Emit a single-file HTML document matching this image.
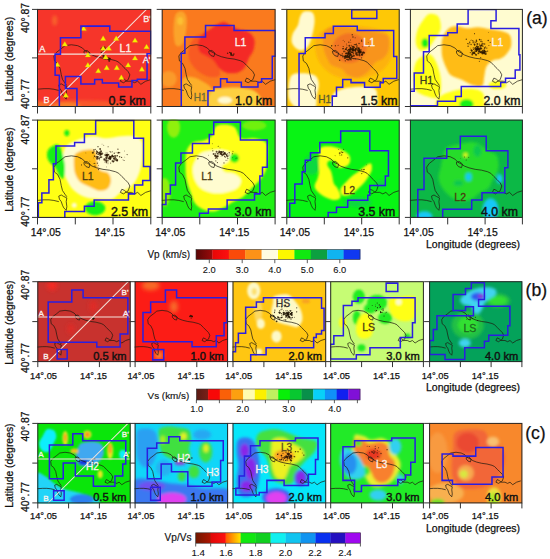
<!DOCTYPE html>
<html><head><meta charset="utf-8"><style>
html,body{margin:0;padding:0;background:#fff;}
body{width:550px;height:559px;overflow:hidden;}
svg text{font-family:"Liberation Sans", sans-serif;}
</style></head><body>
<svg width="550" height="559" viewBox="0 0 550 559" style="display:block;font-family:&quot;Liberation Sans&quot;, sans-serif">
<rect width="550" height="559" fill="#fff"/>
<svg x="37.00" y="8.90" width="114.30" height="98.10" viewBox="0 0 113.0 97.4" preserveAspectRatio="none" overflow="hidden">
<defs><filter id="fp1" x="-50%" y="-50%" width="200%" height="200%"><feGaussianBlur stdDeviation="1.6"/></filter></defs>
<rect width="113.0" height="97.4" fill="#f6352a"/>
<g transform="translate(-0.50 -0.40)">
<g filter="url(#fp1)">
<ellipse cx="45.0" cy="100.0" rx="50.0" ry="9.0" fill="#f8582a"/>
<ellipse cx="30.0" cy="98.0" rx="14.0" ry="5.0" fill="#f8802c"/>
<ellipse cx="5.0" cy="97.0" rx="8.0" ry="5.0" fill="#f8702a"/>
<ellipse cx="18.0" cy="12.0" rx="2.5" ry="5.0" fill="#f8602c"/>
<ellipse cx="48.0" cy="20.0" rx="2.0" ry="3.0" fill="#f8502c"/>
</g>
<polyline points="30.0,76.5 28.2,74.1 25.7,70.4 24.5,65.6 23.3,59.4 20.9,54.5 17.8,52.1 17.2,47.2 19.7,43.6 24.5,39.9 28.2,36.9 34.5,36.0 40.7,36.9 45.4,39.2 48.5,42.4 51.6,44.0 55.0,46.2 59.5,47.9 65.7,49.4 72.0,50.2 78.2,51.8 81.3,53.3 84.4,56.5 87.6,59.6 90.7,62.8 92.3,65.9 90.7,70.6 86.0,73.7 82.9,72.2 84.4,69.1 87.0,70.3 89.1,72.2 93.8,72.2 97.0,73.7 100.0,72.2 103.2,75.3 107.9,72.2 113.0,70.6" fill="none" stroke="#201a10" stroke-width="0.85" stroke-opacity="0.85"/>
<polyline points="0.0,80.2 7.5,79.6 12.4,79.6 17.2,80.2 22.1,81.4" fill="none" stroke="#201a10" stroke-width="0.85" stroke-opacity="0.85"/>
<polyline points="22.0,75.9 24.5,74.8 27.0,76.3 30.0,77.7 29.4,81.4 30.0,86.4 29.4,90.0 27.0,87.6 25.7,85.0 24.5,81.4 22.7,79.0 22.0,75.9" fill="none" stroke="#201a10" stroke-width="0.85" stroke-opacity="0.85"/>
<polyline points="47.0,42.2 50.0,41.7 53.0,44.2 52.0,47.7 49.0,46.7 47.0,44.2 47.0,42.2" fill="none" stroke="#201a10" stroke-width="0.85" stroke-opacity="0.85"/>
<g fill="#2a1600" fill-opacity="0.75"><circle cx="67.6" cy="39.9" r="0.86"/><circle cx="66.4" cy="45.6" r="0.85"/><circle cx="66.7" cy="41.2" r="0.89"/><circle cx="64.2" cy="40.6" r="0.90"/><circle cx="66.1" cy="46.6" r="0.96"/><circle cx="66.5" cy="47.8" r="1.16"/><circle cx="67.5" cy="38.6" r="0.80"/><circle cx="66.2" cy="38.3" r="1.00"/><circle cx="66.0" cy="43.2" r="0.86"/><circle cx="64.5" cy="39.9" r="1.15"/><circle cx="64.1" cy="43.6" r="0.77"/><circle cx="67.0" cy="40.4" r="0.64"/><circle cx="71.1" cy="49.5" r="1.08"/><circle cx="71.5" cy="50.2" r="0.90"/><circle cx="72.5" cy="49.8" r="0.81"/><circle cx="72.4" cy="49.9" r="0.94"/><circle cx="71.9" cy="52.0" r="1.06"/><circle cx="70.7" cy="50.3" r="0.80"/><circle cx="66.9" cy="50.1" r="0.69"/><circle cx="68.5" cy="49.9" r="0.93"/></g>
<line x1="0" y1="45.3" x2="113.0" y2="45.3" stroke="#f4e4dc" stroke-width="1"/>
<line x1="12.2" y1="97.4" x2="113.0" y2="-3.4" stroke="#f4e4dc" stroke-width="1"/>
<polygon points="25.3,37.3 30.7,37.3 28.0,32.7" fill="#f8f000" stroke="#d8c000" stroke-width="0.3"/><polygon points="63.2,31.7 68.6,31.7 65.9,27.1" fill="#f8f000" stroke="#d8c000" stroke-width="0.3"/><polygon points="76.1,31.7 81.5,31.7 78.8,27.1" fill="#f8f000" stroke="#d8c000" stroke-width="0.3"/><polygon points="94.7,33.6 100.1,33.6 97.4,29.0" fill="#f8f000" stroke="#d8c000" stroke-width="0.3"/><polygon points="106.1,40.0 111.5,40.0 108.8,35.4" fill="#f8f000" stroke="#d8c000" stroke-width="0.3"/><polygon points="63.2,41.5 68.6,41.5 65.9,36.9" fill="#f8f000" stroke="#d8c000" stroke-width="0.3"/><polygon points="68.8,41.5 74.2,41.5 71.5,36.9" fill="#f8f000" stroke="#d8c000" stroke-width="0.3"/><polygon points="48.1,48.1 53.5,48.1 50.8,43.5" fill="#f8f000" stroke="#d8c000" stroke-width="0.3"/><polygon points="65.7,50.2 71.1,50.2 68.4,45.6" fill="#f8f000" stroke="#d8c000" stroke-width="0.3"/><polygon points="94.7,51.2 100.1,51.2 97.4,46.6" fill="#f8f000" stroke="#d8c000" stroke-width="0.3"/><polygon points="48.1,58.1 53.5,58.1 50.8,53.5" fill="#f8f000" stroke="#d8c000" stroke-width="0.3"/><polygon points="58.4,63.9 63.8,63.9 61.1,59.3" fill="#f8f000" stroke="#d8c000" stroke-width="0.3"/><polygon points="66.7,60.8 72.1,60.8 69.4,56.2" fill="#f8f000" stroke="#d8c000" stroke-width="0.3"/><polygon points="76.7,60.8 82.1,60.8 79.4,56.2" fill="#f8f000" stroke="#d8c000" stroke-width="0.3"/><polygon points="87.9,58.1 93.3,58.1 90.6,53.5" fill="#f8f000" stroke="#d8c000" stroke-width="0.3"/><polygon points="101.5,62.2 106.9,62.2 104.2,57.6" fill="#f8f000" stroke="#d8c000" stroke-width="0.3"/><polygon points="81.2,70.5 86.6,70.5 83.9,65.9" fill="#f8f000" stroke="#d8c000" stroke-width="0.3"/><polygon points="18.0,57.6 23.4,57.6 20.7,53.0" fill="#f8f000" stroke="#d8c000" stroke-width="0.3"/><polygon points="26.3,88.1 31.7,88.1 29.0,83.5" fill="#f8f000" stroke="#d8c000" stroke-width="0.3"/><polygon points="43.9,21.8 49.3,21.8 46.6,17.2" fill="#f8f000" stroke="#d8c000" stroke-width="0.3"/>
<polygon points="43.9,17.5 72.5,17.5 72.5,22.5 113.0,22.5 113.0,45.0 109.3,45.0 109.3,70.2 99.7,70.2 99.7,71.6 94.4,71.6 94.4,78.0 81.2,78.0 81.2,74.0 65.1,74.0 65.1,70.6 57.5,70.6 57.5,75.0 43.9,75.0 43.9,67.4 28.6,67.4 28.6,79.4 40.0,79.4 40.0,97.5 22.6,97.5 22.6,66.3 18.4,66.3 18.4,45.3 23.7,45.3 23.7,29.0 43.9,29.0" fill="none" stroke="#2a1ee0" stroke-width="1.5"/>
</g>
<text x="87.5" y="42.7" fill="#fbf3ee" stroke="#fbf3ee" stroke-width="0.3" font-size="10.5" text-anchor="middle">L1</text>
<text x="5.2" y="43.0" fill="#fbf3ee" stroke="#fbf3ee" stroke-width="0.3" font-size="9.0" text-anchor="middle">A</text>
<text x="108.3" y="54.0" fill="#fbf3ee" stroke="#fbf3ee" stroke-width="0.3" font-size="9.0" text-anchor="middle">A'</text>
<text x="9.5" y="93.5" fill="#fbf3ee" stroke="#fbf3ee" stroke-width="0.3" font-size="9.0" text-anchor="middle">B</text>
<text x="108.8" y="13.5" fill="#fbf3ee" stroke="#fbf3ee" stroke-width="0.3" font-size="9.0" text-anchor="middle">B'</text>
<text x="107.6" y="95.2" fill="#111" stroke="#111" stroke-width="0.4" font-size="12.3" text-anchor="end">0.5 km</text>

</svg>
<rect x="37.50" y="9.40" width="113.30" height="97.10" fill="none" stroke="#262626" stroke-width="1"/>
<svg x="161.70" y="8.90" width="113.90" height="98.10" viewBox="0 0 113.0 97.4" preserveAspectRatio="none" overflow="hidden">
<defs><filter id="fp2" x="-50%" y="-50%" width="200%" height="200%"><feGaussianBlur stdDeviation="1.3"/></filter></defs>
<rect width="113.0" height="97.4" fill="#fa7a1e"/>
<g transform="translate(-0.20 -0.40)">
<g filter="url(#fp2)">
<path d="M27.0,40.0 C27.7,36.3 29.8,32.3 32.0,30.0 C34.2,27.7 37.0,24.3 40.0,26.0 C43.0,27.7 47.3,35.0 50.0,40.0 C52.7,45.0 54.7,51.7 56.0,56.0 C57.3,60.3 59.3,64.0 58.0,66.0 C56.7,68.0 51.7,68.7 48.0,68.0 C44.3,67.3 39.3,64.7 36.0,62.0 C32.7,59.3 29.5,55.7 28.0,52.0 C26.5,48.3 26.3,43.7 27.0,40.0Z" fill="#f85a20"/>
<path d="M37.3,31.1 C38.2,29.0 39.4,26.8 41.5,24.9 C43.6,23.0 47.3,21.3 49.7,19.7 C52.1,18.1 53.9,16.5 56.0,15.5 C58.1,14.5 60.1,13.3 62.2,13.5 C64.3,13.7 66.0,15.4 68.4,16.6 C70.8,17.8 73.6,19.5 76.7,20.7 C79.8,21.9 84.4,22.1 87.0,23.8 C89.6,25.5 91.5,28.2 92.2,31.1 C92.9,34.1 92.1,38.6 91.2,41.5 C90.3,44.4 88.4,46.0 87.0,48.7 C85.6,51.5 84.6,55.6 82.9,58.0 C81.2,60.4 79.5,62.2 76.7,63.2 C73.9,64.2 69.4,64.7 66.3,64.2 C63.2,63.7 60.4,62.2 58.0,60.1 C55.6,58.0 53.9,53.9 51.8,51.8 C49.7,49.7 47.9,49.1 45.6,47.7 C43.4,46.3 39.8,45.2 38.3,43.5 C36.8,41.8 36.5,39.4 36.3,37.3 C36.1,35.2 36.4,33.2 37.3,31.1Z" fill="#f42c26"/>
<path d="M14.0,6.0 C15.5,2.8 19.2,2.3 21.0,3.0 C22.8,3.7 24.5,6.3 25.0,10.0 C25.5,13.7 24.8,20.7 24.0,25.0 C23.2,29.3 21.7,34.2 20.0,36.0 C18.3,37.8 15.3,38.3 14.0,36.0 C12.7,33.7 12.0,27.0 12.0,22.0 C12.0,17.0 12.5,9.2 14.0,6.0Z" fill="#fba42a"/>
<ellipse cx="18.6" cy="12.4" rx="3.0" ry="4.0" fill="#fcc030"/>
<ellipse cx="7.0" cy="70.0" rx="8.0" ry="8.0" fill="#fa9a2a"/>
<path d="M21.0,70.0 C22.7,67.2 26.8,67.7 30.0,68.0 C33.2,68.3 36.7,70.0 40.0,72.0 C43.3,74.0 48.3,75.7 50.0,80.0 C51.7,84.3 54.7,95.0 50.0,98.0 C45.3,101.0 27.0,100.2 22.0,98.0 C17.0,95.8 20.2,89.7 20.0,85.0 C19.8,80.3 19.3,72.8 21.0,70.0Z" fill="#fcb02a"/>
<path d="M50.0,82.0 C52.0,78.8 57.0,79.5 62.0,79.0 C67.0,78.5 74.5,78.2 80.0,79.0 C85.5,79.8 92.2,80.8 95.0,84.0 C97.8,87.2 104.5,95.7 97.0,98.0 C89.5,100.3 57.8,100.7 50.0,98.0 C42.2,95.3 48.0,85.2 50.0,82.0Z" fill="#fdd040"/>
<ellipse cx="63.0" cy="91.0" rx="7.0" ry="3.5" fill="#fffad0"/>
</g>
<polyline points="30.0,76.5 28.2,74.1 25.7,70.4 24.5,65.6 23.3,59.4 20.9,54.5 17.8,52.1 17.2,47.2 19.7,43.6 24.5,39.9 28.2,36.9 34.5,36.0 40.7,36.9 45.4,39.2 48.5,42.4 51.6,44.0 55.0,46.2 59.5,47.9 65.7,49.4 72.0,50.2 78.2,51.8 81.3,53.3 84.4,56.5 87.6,59.6 90.7,62.8 92.3,65.9 90.7,70.6 86.0,73.7 82.9,72.2 84.4,69.1 87.0,70.3 89.1,72.2 93.8,72.2 97.0,73.7 100.0,72.2 103.2,75.3 107.9,72.2 113.0,70.6" fill="none" stroke="#201a10" stroke-width="0.85" stroke-opacity="0.85"/>
<polyline points="0.0,80.2 7.5,79.6 12.4,79.6 17.2,80.2 22.1,81.4" fill="none" stroke="#201a10" stroke-width="0.85" stroke-opacity="0.85"/>
<polyline points="22.0,75.9 24.5,74.8 27.0,76.3 30.0,77.7 29.4,81.4 30.0,86.4 29.4,90.0 27.0,87.6 25.7,85.0 24.5,81.4 22.7,79.0 22.0,75.9" fill="none" stroke="#201a10" stroke-width="0.85" stroke-opacity="0.85"/>
<polyline points="47.0,42.2 50.0,41.7 53.0,44.2 52.0,47.7 49.0,46.7 47.0,44.2 47.0,42.2" fill="none" stroke="#201a10" stroke-width="0.85" stroke-opacity="0.85"/>
<g fill="#2a1600" fill-opacity="0.75"><circle cx="70.9" cy="46.4" r="0.93"/><circle cx="68.9" cy="46.2" r="0.78"/><circle cx="67.5" cy="43.6" r="0.61"/><circle cx="71.8" cy="45.3" r="0.77"/><circle cx="69.0" cy="44.9" r="0.77"/><circle cx="68.8" cy="44.3" r="1.01"/><circle cx="69.3" cy="44.9" r="0.57"/><circle cx="65.6" cy="44.4" r="0.74"/><circle cx="69.3" cy="46.0" r="0.57"/><circle cx="69.3" cy="46.1" r="0.80"/></g>
<polygon points="43.7,17.0 72.0,17.0 72.0,21.8 113.0,21.8 113.0,47.3 109.9,47.3 109.9,69.7 99.3,69.7 99.3,73.3 95.7,73.3 95.7,78.0 79.2,78.0 79.2,73.3 65.0,73.3 65.0,69.7 58.6,69.7 58.6,78.0 52.0,78.0 52.0,81.6 46.1,81.6 46.1,97.5 19.6,97.5 19.6,44.4 23.2,44.4 23.2,28.4 43.7,28.4" fill="none" stroke="#2a1ee0" stroke-width="1.5"/>
</g>
<text x="78.3" y="37.0" fill="#fbf3ee" stroke="#fbf3ee" stroke-width="0.3" font-size="10.5" text-anchor="middle">L1</text>
<text x="38.2" y="91.0" fill="#6a6a38" stroke="#6a6a38" stroke-width="0.3" font-size="10.0" text-anchor="middle">H1</text>
<text x="109.7" y="95.2" fill="#111" stroke="#111" stroke-width="0.4" font-size="12.3" text-anchor="end">1.0 km</text>

</svg>
<rect x="162.20" y="9.40" width="112.90" height="97.10" fill="none" stroke="#262626" stroke-width="1"/>
<svg x="286.30" y="8.90" width="113.40" height="98.10" viewBox="0 0 113.0 97.4" preserveAspectRatio="none" overflow="hidden">
<defs><filter id="fp3" x="-50%" y="-50%" width="200%" height="200%"><feGaussianBlur stdDeviation="1.3"/></filter></defs>
<rect width="113.0" height="97.4" fill="#fec806"/>
<g transform="translate(-0.80 -0.40)">
<g filter="url(#fp3)">
<path d="M30.0,30.0 C31.7,25.0 37.0,22.2 42.0,20.0 C47.0,17.8 52.0,17.0 60.0,17.0 C68.0,17.0 82.7,18.3 90.0,20.0 C97.3,21.7 101.3,22.7 104.0,27.0 C106.7,31.3 107.0,40.5 106.0,46.0 C105.0,51.5 102.0,56.3 98.0,60.0 C94.0,63.7 88.0,66.3 82.0,68.0 C76.0,69.7 68.3,70.7 62.0,70.0 C55.7,69.3 49.0,67.3 44.0,64.0 C39.0,60.7 34.3,55.7 32.0,50.0 C29.7,44.3 28.3,35.0 30.0,30.0Z" fill="#fdb20c"/>
<path d="M38.3,22.8 C40.0,20.6 43.7,18.3 47.7,17.6 C51.7,16.9 58.1,18.2 62.2,18.7 C66.3,19.2 68.4,20.0 72.5,20.7 C76.6,21.4 82.2,21.8 87.0,22.8 C91.8,23.8 99.0,23.8 101.6,26.9 C104.2,30.0 103.3,37.7 102.6,41.5 C101.9,45.3 99.7,47.6 97.4,49.7 C95.2,51.8 91.5,51.8 89.1,53.9 C86.7,56.0 85.7,59.8 82.9,62.2 C80.1,64.6 76.0,67.7 72.5,68.4 C69.0,69.1 65.0,67.7 62.2,66.3 C59.5,64.9 58.8,61.8 56.0,60.1 C53.2,58.4 48.0,57.7 45.6,56.0 C43.2,54.3 42.7,52.1 41.5,49.7 C40.3,47.3 39.0,44.6 38.3,41.5 C37.6,38.4 37.3,34.2 37.3,31.1 C37.3,28.0 36.6,25.1 38.3,22.8Z" fill="#f8941c"/>
<path d="M49.7,31.1 C52.0,28.3 56.3,25.6 60.1,24.9 C63.9,24.2 69.0,25.2 72.5,26.9 C76.0,28.6 79.8,32.1 80.8,35.2 C81.8,38.3 80.5,42.7 78.8,45.6 C77.1,48.5 73.6,51.4 70.5,52.8 C67.4,54.2 63.2,54.4 60.1,53.9 C57.0,53.4 54.0,51.8 51.8,49.7 C49.5,47.6 47.0,44.6 46.6,41.5 C46.2,38.4 47.5,33.9 49.7,31.1Z" fill="#f27424"/>
<path d="M18.7,3.1 C20.8,2.4 25.3,2.5 27.0,4.1 C28.7,5.6 29.0,8.9 29.0,12.4 C29.0,15.9 28.0,20.8 27.0,24.9 C26.0,29.0 24.5,34.5 22.8,37.3 C21.1,40.1 18.7,41.1 16.6,41.5 C14.5,41.9 12.1,40.8 10.4,39.4 C8.7,38.0 6.7,35.6 6.2,33.2 C5.7,30.8 6.3,27.7 7.3,24.9 C8.3,22.1 11.2,19.4 12.4,16.6 C13.6,13.8 13.4,10.6 14.5,8.3 C15.6,6.1 16.6,3.8 18.7,3.1Z" fill="#fffad0"/>
<path d="M6.2,66.3 C8.5,63.9 12.8,64.2 16.6,64.2 C20.4,64.2 26.2,64.6 29.0,66.3 C31.8,68.0 32.9,71.1 33.2,74.6 C33.6,78.0 31.8,82.9 31.1,87.0 C30.4,91.1 32.1,97.0 29.0,99.0 C25.9,101.0 16.6,100.3 12.4,99.0 C8.2,97.7 5.6,94.6 4.1,91.2 C2.5,87.8 2.8,83.0 3.1,78.8 C3.5,74.6 3.9,68.7 6.2,66.3Z" fill="#fffad0"/>
<path d="M49.7,82.9 C52.3,81.2 57.4,79.7 62.2,78.8 C67.0,77.9 74.3,77.5 78.8,77.7 C83.3,77.9 87.0,78.2 89.1,79.8 C91.2,81.3 91.5,83.8 91.2,87.0 C90.9,90.2 94.2,97.0 87.0,99.0 C79.8,101.0 54.4,100.7 47.7,99.0 C41.0,97.3 46.3,91.8 46.6,89.1 C46.9,86.4 47.1,84.6 49.7,82.9Z" fill="#fffad0"/>
</g>
<polyline points="30.0,76.5 28.2,74.1 25.7,70.4 24.5,65.6 23.3,59.4 20.9,54.5 17.8,52.1 17.2,47.2 19.7,43.6 24.5,39.9 28.2,36.9 34.5,36.0 40.7,36.9 45.4,39.2 48.5,42.4 51.6,44.0 55.0,46.2 59.5,47.9 65.7,49.4 72.0,50.2 78.2,51.8 81.3,53.3 84.4,56.5 87.6,59.6 90.7,62.8 92.3,65.9 90.7,70.6 86.0,73.7 82.9,72.2 84.4,69.1 87.0,70.3 89.1,72.2 93.8,72.2 97.0,73.7 100.0,72.2 103.2,75.3 107.9,72.2 113.0,70.6" fill="none" stroke="#201a10" stroke-width="0.85" stroke-opacity="0.85"/>
<polyline points="0.0,80.2 7.5,79.6 12.4,79.6 17.2,80.2 22.1,81.4" fill="none" stroke="#201a10" stroke-width="0.85" stroke-opacity="0.85"/>
<polyline points="22.0,75.9 24.5,74.8 27.0,76.3 30.0,77.7 29.4,81.4 30.0,86.4 29.4,90.0 27.0,87.6 25.7,85.0 24.5,81.4 22.7,79.0 22.0,75.9" fill="none" stroke="#201a10" stroke-width="0.85" stroke-opacity="0.85"/>
<polyline points="47.0,42.2 50.0,41.7 53.0,44.2 52.0,47.7 49.0,46.7 47.0,44.2 47.0,42.2" fill="none" stroke="#201a10" stroke-width="0.85" stroke-opacity="0.85"/>
<g fill="#2a1600" fill-opacity="0.75"><circle cx="82.4" cy="34.0" r="0.44"/><circle cx="77.5" cy="43.8" r="0.68"/><circle cx="63.1" cy="33.5" r="0.64"/><circle cx="58.8" cy="33.1" r="0.48"/><circle cx="59.7" cy="40.5" r="0.68"/><circle cx="83.1" cy="37.5" r="0.62"/><circle cx="60.8" cy="39.6" r="0.43"/><circle cx="73.7" cy="39.2" r="0.53"/><circle cx="55.2" cy="46.7" r="0.61"/><circle cx="61.2" cy="36.4" r="0.43"/><circle cx="64.3" cy="40.9" r="0.60"/><circle cx="76.5" cy="37.9" r="0.49"/><circle cx="75.8" cy="31.4" r="0.68"/><circle cx="75.9" cy="32.4" r="0.70"/><circle cx="54.0" cy="51.4" r="0.77"/><circle cx="72.2" cy="46.5" r="0.68"/><circle cx="57.6" cy="39.8" r="0.60"/><circle cx="73.3" cy="34.8" r="0.72"/><circle cx="57.2" cy="47.9" r="0.74"/><circle cx="57.2" cy="39.9" r="0.75"/><circle cx="64.7" cy="31.2" r="0.50"/><circle cx="61.1" cy="46.3" r="0.48"/><circle cx="70.6" cy="35.4" r="0.75"/><circle cx="59.6" cy="52.0" r="0.67"/><circle cx="57.5" cy="37.8" r="0.65"/><circle cx="60.8" cy="35.3" r="0.49"/><circle cx="49.7" cy="37.0" r="0.64"/><circle cx="77.5" cy="43.1" r="0.68"/><circle cx="69.8" cy="35.9" r="0.69"/><circle cx="75.5" cy="41.1" r="0.52"/><circle cx="68.1" cy="50.1" r="0.46"/><circle cx="52.4" cy="36.4" r="0.51"/><circle cx="69.5" cy="50.0" r="0.57"/><circle cx="65.6" cy="36.5" r="0.55"/><circle cx="70.9" cy="45.9" r="0.45"/><circle cx="67.5" cy="37.6" r="0.68"/><circle cx="71.3" cy="38.6" r="0.71"/><circle cx="68.5" cy="41.2" r="0.67"/><circle cx="64.4" cy="39.2" r="0.78"/><circle cx="67.1" cy="39.3" r="0.54"/><circle cx="57.4" cy="31.5" r="0.46"/><circle cx="65.1" cy="39.3" r="0.58"/><circle cx="67.2" cy="28.2" r="0.74"/><circle cx="66.5" cy="26.1" r="0.67"/><circle cx="61.1" cy="38.7" r="0.66"/><circle cx="64.7" cy="40.5" r="0.58"/><circle cx="68.6" cy="35.8" r="0.63"/><circle cx="59.4" cy="42.5" r="0.47"/><circle cx="71.2" cy="36.8" r="0.64"/><circle cx="64.8" cy="38.6" r="0.62"/><circle cx="67.5" cy="39.6" r="0.43"/><circle cx="67.7" cy="40.3" r="0.65"/><circle cx="46.0" cy="37.1" r="0.76"/><circle cx="71.1" cy="37.8" r="0.58"/><circle cx="66.0" cy="46.0" r="0.64"/><circle cx="69.4" cy="29.0" r="0.51"/><circle cx="58.4" cy="41.4" r="0.42"/><circle cx="73.0" cy="39.4" r="0.46"/><circle cx="65.1" cy="33.6" r="0.46"/><circle cx="68.1" cy="42.0" r="0.50"/><circle cx="63.2" cy="40.7" r="0.80"/><circle cx="64.9" cy="39.9" r="1.12"/><circle cx="69.9" cy="40.3" r="0.86"/><circle cx="62.7" cy="40.8" r="0.66"/><circle cx="63.3" cy="42.2" r="0.73"/><circle cx="69.7" cy="43.0" r="0.83"/><circle cx="60.4" cy="40.5" r="0.96"/><circle cx="64.2" cy="46.6" r="0.83"/><circle cx="69.8" cy="41.4" r="0.68"/><circle cx="64.4" cy="44.6" r="0.99"/><circle cx="68.7" cy="41.2" r="0.85"/><circle cx="64.3" cy="41.1" r="0.95"/><circle cx="67.8" cy="41.7" r="0.83"/><circle cx="66.9" cy="40.7" r="1.04"/><circle cx="67.2" cy="43.4" r="0.84"/><circle cx="61.9" cy="41.8" r="0.84"/><circle cx="66.9" cy="41.7" r="0.67"/><circle cx="68.1" cy="38.7" r="1.15"/><circle cx="65.8" cy="40.6" r="0.99"/><circle cx="66.7" cy="37.8" r="0.90"/><circle cx="64.3" cy="42.7" r="1.06"/><circle cx="65.6" cy="43.4" r="0.89"/><circle cx="70.3" cy="40.0" r="1.13"/><circle cx="67.1" cy="39.6" r="0.76"/><circle cx="64.1" cy="41.1" r="0.86"/><circle cx="63.6" cy="37.0" r="0.95"/><circle cx="66.5" cy="40.2" r="0.82"/><circle cx="67.4" cy="41.0" r="0.86"/><circle cx="67.0" cy="41.3" r="1.11"/><circle cx="69.6" cy="40.8" r="0.70"/><circle cx="73.5" cy="45.4" r="0.99"/><circle cx="72.9" cy="42.0" r="0.91"/><circle cx="76.4" cy="45.6" r="1.14"/><circle cx="74.0" cy="43.1" r="0.91"/><circle cx="73.6" cy="42.5" r="1.11"/><circle cx="70.2" cy="44.8" r="0.85"/><circle cx="78.4" cy="43.9" r="0.94"/><circle cx="75.7" cy="45.7" r="0.65"/><circle cx="69.7" cy="41.7" r="0.73"/><circle cx="71.1" cy="43.9" r="0.85"/><circle cx="72.6" cy="39.4" r="1.01"/><circle cx="67.7" cy="44.9" r="0.81"/><circle cx="73.9" cy="41.1" r="1.04"/><circle cx="75.1" cy="42.9" r="0.97"/><circle cx="71.0" cy="45.7" r="1.16"/><circle cx="73.7" cy="43.8" r="0.88"/><circle cx="72.8" cy="40.0" r="0.98"/><circle cx="74.2" cy="43.7" r="1.14"/><circle cx="73.6" cy="41.3" r="1.12"/><circle cx="74.9" cy="43.4" r="1.07"/><circle cx="74.2" cy="42.7" r="1.03"/><circle cx="72.6" cy="43.3" r="1.06"/><circle cx="76.2" cy="46.1" r="0.86"/><circle cx="73.9" cy="46.6" r="0.88"/><circle cx="75.8" cy="49.0" r="0.67"/><circle cx="76.9" cy="44.0" r="1.08"/><circle cx="71.7" cy="41.2" r="0.89"/><circle cx="73.0" cy="42.4" r="0.77"/><circle cx="73.4" cy="44.0" r="0.67"/><circle cx="74.0" cy="42.8" r="1.04"/><circle cx="62.5" cy="44.2" r="0.99"/><circle cx="63.2" cy="42.5" r="0.70"/><circle cx="63.3" cy="47.5" r="0.88"/><circle cx="61.9" cy="46.3" r="0.93"/><circle cx="64.3" cy="45.6" r="0.92"/><circle cx="60.0" cy="47.3" r="1.10"/><circle cx="60.7" cy="48.4" r="0.89"/><circle cx="56.6" cy="45.0" r="0.67"/><circle cx="63.0" cy="44.6" r="0.98"/><circle cx="63.0" cy="43.5" r="0.84"/><circle cx="62.6" cy="45.3" r="0.97"/><circle cx="59.6" cy="47.4" r="1.09"/><circle cx="63.0" cy="43.6" r="0.80"/><circle cx="62.3" cy="48.0" r="0.76"/><circle cx="60.9" cy="50.5" r="0.69"/><circle cx="63.0" cy="44.4" r="0.83"/><circle cx="61.6" cy="46.7" r="0.88"/><circle cx="63.4" cy="47.7" r="0.79"/><circle cx="66.4" cy="43.5" r="0.87"/><circle cx="58.3" cy="42.8" r="0.81"/><circle cx="63.5" cy="46.8" r="0.73"/><circle cx="60.9" cy="44.4" r="0.82"/><circle cx="62.5" cy="44.7" r="1.07"/><circle cx="60.3" cy="44.7" r="1.07"/><circle cx="59.2" cy="49.1" r="1.13"/><circle cx="61.9" cy="48.0" r="1.02"/><circle cx="64.8" cy="45.5" r="0.98"/><circle cx="68.1" cy="47.0" r="1.03"/><circle cx="64.3" cy="50.0" r="0.88"/><circle cx="63.7" cy="49.1" r="0.64"/><circle cx="66.8" cy="47.6" r="0.79"/><circle cx="66.0" cy="47.4" r="1.02"/><circle cx="65.3" cy="48.3" r="0.73"/><circle cx="62.2" cy="50.6" r="0.98"/><circle cx="65.2" cy="46.4" r="0.82"/><circle cx="65.3" cy="50.8" r="0.75"/><circle cx="64.4" cy="50.1" r="0.63"/><circle cx="63.2" cy="51.1" r="0.61"/><circle cx="65.8" cy="48.8" r="0.68"/><circle cx="63.7" cy="48.5" r="0.72"/></g>
<polygon points="47.7,17.6 71.5,17.6 71.5,21.8 107.8,21.8 107.8,47.7 110.9,47.7 110.9,69.4 97.4,69.4 97.4,73.6 94.3,73.6 94.3,78.3 78.8,78.3 78.8,73.6 65.3,73.6 65.3,70.5 57.0,70.5 57.0,78.3 50.8,78.3 50.8,87.0 46.6,87.0 46.6,97.5 13.5,97.5 13.5,44.6 19.7,44.6 19.7,29.0 39.4,29.0 39.4,24.9 47.7,24.9" fill="none" stroke="#2a1ee0" stroke-width="1.5"/>
<polygon points="66.0,1.2 91.0,1.2 91.0,10.0 66.0,10.0" fill="none" stroke="#2a1ee0" stroke-width="1.5"/>
</g>
<text x="82.6" y="37.3" fill="#fbf3ee" stroke="#fbf3ee" stroke-width="0.3" font-size="10.5" text-anchor="middle">L1</text>
<text x="38.3" y="93.3" fill="#5a5a30" stroke="#5a5a30" stroke-width="0.3" font-size="10.0" text-anchor="middle">H1</text>
<text x="110.8" y="95.2" fill="#111" stroke="#111" stroke-width="0.4" font-size="12.3" text-anchor="end">1.5 km</text>

</svg>
<rect x="286.80" y="9.40" width="112.40" height="97.10" fill="none" stroke="#262626" stroke-width="1"/>
<svg x="409.90" y="8.90" width="113.00" height="98.10" viewBox="0 0 113.0 97.4" preserveAspectRatio="none" overflow="hidden">
<defs><filter id="fp4" x="-50%" y="-50%" width="200%" height="200%"><feGaussianBlur stdDeviation="1.3"/></filter></defs>
<rect width="113.0" height="97.4" fill="#fffcd0"/>
<g transform="translate(-0.40 -0.40)">
<g filter="url(#fp4)">
<path d="M39.4,19.7 C41.8,17.8 44.6,17.6 47.7,17.6 C50.8,17.6 54.5,19.5 58.0,19.7 C61.5,19.9 64.6,18.5 68.4,18.7 C72.2,18.9 76.7,20.0 80.8,20.7 C84.9,21.4 90.0,21.8 93.3,22.8 C96.6,23.8 99.1,24.5 100.5,26.9 C101.9,29.3 102.1,34.3 101.6,37.3 C101.1,40.2 99.1,42.5 97.4,44.6 C95.7,46.7 93.6,48.5 91.2,49.7 C88.8,50.9 85.3,50.4 82.9,51.8 C80.5,53.2 78.1,55.2 76.7,58.0 C75.3,60.8 75.3,65.3 74.6,68.4 C73.9,71.5 74.6,75.5 72.5,76.7 C70.4,77.9 65.7,76.6 62.2,75.6 C58.8,74.6 55.2,72.0 51.8,70.5 C48.3,69.0 43.9,68.0 41.5,66.3 C39.1,64.6 38.7,62.9 37.3,60.1 C35.9,57.3 34.1,53.2 33.2,49.7 C32.3,46.2 32.1,42.9 32.1,39.4 C32.1,35.9 32.0,32.3 33.2,29.0 C34.4,25.7 37.0,21.6 39.4,19.7Z" fill="#ffbc14"/>
<path d="M20.7,5.2 C23.1,4.9 27.3,5.7 29.0,8.3 C30.7,10.9 31.8,16.9 31.1,20.7 C30.4,24.5 27.0,28.0 24.9,31.1 C22.8,34.2 21.1,37.7 18.7,39.4 C16.3,41.1 12.5,42.5 10.4,41.5 C8.3,40.5 6.5,36.7 6.2,33.2 C5.9,29.7 6.9,24.5 8.3,20.7 C9.7,16.9 12.4,13.0 14.5,10.4 C16.6,7.8 18.3,5.5 20.7,5.2Z" fill="#ffff14"/>
<ellipse cx="15.5" cy="34.2" rx="3.5" ry="4.5" fill="#14f014"/>
<path d="M12.4,47.7 C14.8,46.3 18.3,44.6 20.7,45.6 C23.1,46.6 25.2,50.1 26.9,53.9 C28.6,57.7 30.4,63.6 31.1,68.4 C31.8,73.2 31.8,79.5 31.1,82.9 C30.4,86.4 29.3,88.4 26.9,89.1 C24.5,89.8 20.1,88.4 16.6,87.0 C13.2,85.6 8.3,84.2 6.2,80.8 C4.1,77.3 4.1,70.8 4.1,66.3 C4.1,61.8 4.8,57.0 6.2,53.9 C7.6,50.8 10.0,49.1 12.4,47.7Z" fill="#ffff14"/>
<path d="M31.1,87.0 C34.2,84.0 42.5,82.0 47.7,80.8 C52.9,79.6 58.1,79.4 62.2,79.8 C66.3,80.2 70.4,81.0 72.5,82.9 C74.6,84.8 74.9,88.5 74.6,91.2 C74.3,93.9 78.1,97.7 70.5,99.0 C62.9,100.3 35.6,101.0 29.0,99.0 C22.4,97.0 28.0,90.0 31.1,87.0Z" fill="#ffff14"/>
<ellipse cx="57.0" cy="95.0" rx="7.0" ry="5.0" fill="#14f014"/>
<ellipse cx="88.0" cy="76.0" rx="9.0" ry="4.0" fill="#ffff14"/>
</g>
<polyline points="30.0,76.5 28.2,74.1 25.7,70.4 24.5,65.6 23.3,59.4 20.9,54.5 17.8,52.1 17.2,47.2 19.7,43.6 24.5,39.9 28.2,36.9 34.5,36.0 40.7,36.9 45.4,39.2 48.5,42.4 51.6,44.0 55.0,46.2 59.5,47.9 65.7,49.4 72.0,50.2 78.2,51.8 81.3,53.3 84.4,56.5 87.6,59.6 90.7,62.8 92.3,65.9 90.7,70.6 86.0,73.7 82.9,72.2 84.4,69.1 87.0,70.3 89.1,72.2 93.8,72.2 97.0,73.7 100.0,72.2 103.2,75.3 107.9,72.2 113.0,70.6" fill="none" stroke="#201a10" stroke-width="0.85" stroke-opacity="0.85"/>
<polyline points="0.0,80.2 7.5,79.6 12.4,79.6 17.2,80.2 22.1,81.4" fill="none" stroke="#201a10" stroke-width="0.85" stroke-opacity="0.85"/>
<polyline points="22.0,75.9 24.5,74.8 27.0,76.3 30.0,77.7 29.4,81.4 30.0,86.4 29.4,90.0 27.0,87.6 25.7,85.0 24.5,81.4 22.7,79.0 22.0,75.9" fill="none" stroke="#201a10" stroke-width="0.85" stroke-opacity="0.85"/>
<polyline points="47.0,42.2 50.0,41.7 53.0,44.2 52.0,47.7 49.0,46.7 47.0,44.2 47.0,42.2" fill="none" stroke="#201a10" stroke-width="0.85" stroke-opacity="0.85"/>
<g fill="#2a1600" fill-opacity="0.75"><circle cx="68.6" cy="42.3" r="0.55"/><circle cx="61.3" cy="31.7" r="0.44"/><circle cx="79.4" cy="36.8" r="0.51"/><circle cx="69.9" cy="52.4" r="0.59"/><circle cx="71.5" cy="31.1" r="0.65"/><circle cx="73.0" cy="41.8" r="0.73"/><circle cx="58.2" cy="34.8" r="0.66"/><circle cx="77.3" cy="39.3" r="0.63"/><circle cx="67.5" cy="37.2" r="0.73"/><circle cx="58.6" cy="37.4" r="0.74"/><circle cx="65.0" cy="25.0" r="0.56"/><circle cx="70.0" cy="30.9" r="0.76"/><circle cx="70.0" cy="34.4" r="0.47"/><circle cx="71.2" cy="48.7" r="0.58"/><circle cx="64.4" cy="33.0" r="0.60"/><circle cx="63.8" cy="39.1" r="0.63"/><circle cx="56.8" cy="30.5" r="0.67"/><circle cx="78.7" cy="31.7" r="0.78"/><circle cx="66.3" cy="33.4" r="0.73"/><circle cx="80.7" cy="33.6" r="0.62"/><circle cx="67.1" cy="32.6" r="0.72"/><circle cx="63.6" cy="34.2" r="0.44"/><circle cx="79.0" cy="24.0" r="0.45"/><circle cx="69.9" cy="31.1" r="0.47"/><circle cx="65.2" cy="44.2" r="0.73"/><circle cx="76.0" cy="37.9" r="0.44"/><circle cx="66.9" cy="31.6" r="0.74"/><circle cx="75.1" cy="35.3" r="0.78"/><circle cx="67.1" cy="37.9" r="0.64"/><circle cx="71.9" cy="36.6" r="0.57"/><circle cx="65.3" cy="34.1" r="0.44"/><circle cx="71.5" cy="32.8" r="0.77"/><circle cx="72.7" cy="33.1" r="0.59"/><circle cx="59.4" cy="35.1" r="0.63"/><circle cx="60.2" cy="33.5" r="0.76"/><circle cx="61.6" cy="35.8" r="0.68"/><circle cx="68.4" cy="40.2" r="0.77"/><circle cx="60.5" cy="35.2" r="0.42"/><circle cx="61.2" cy="39.3" r="0.43"/><circle cx="61.7" cy="31.3" r="0.44"/><circle cx="63.3" cy="32.0" r="0.66"/><circle cx="62.4" cy="42.3" r="0.69"/><circle cx="70.1" cy="36.2" r="0.66"/><circle cx="72.4" cy="35.1" r="0.58"/><circle cx="63.6" cy="33.6" r="0.55"/><circle cx="67.1" cy="40.8" r="0.95"/><circle cx="67.2" cy="40.8" r="1.05"/><circle cx="71.2" cy="39.4" r="1.03"/><circle cx="67.3" cy="40.3" r="1.06"/><circle cx="68.1" cy="40.3" r="0.87"/><circle cx="67.6" cy="38.1" r="0.80"/><circle cx="65.6" cy="42.3" r="0.87"/><circle cx="68.9" cy="38.0" r="0.81"/><circle cx="65.0" cy="35.6" r="0.87"/><circle cx="68.2" cy="40.0" r="0.92"/><circle cx="69.6" cy="42.4" r="1.08"/><circle cx="68.8" cy="40.5" r="1.07"/><circle cx="65.2" cy="36.2" r="0.82"/><circle cx="69.4" cy="40.2" r="1.06"/><circle cx="67.7" cy="40.8" r="0.86"/><circle cx="65.8" cy="40.0" r="1.13"/><circle cx="68.1" cy="39.2" r="1.14"/><circle cx="73.4" cy="35.0" r="0.86"/><circle cx="73.4" cy="37.6" r="0.75"/><circle cx="67.9" cy="35.2" r="0.99"/><circle cx="65.9" cy="38.8" r="0.81"/><circle cx="68.1" cy="39.7" r="0.95"/><circle cx="66.9" cy="42.5" r="0.65"/><circle cx="71.2" cy="37.2" r="1.13"/><circle cx="72.3" cy="36.4" r="0.94"/><circle cx="78.1" cy="42.3" r="0.72"/><circle cx="72.9" cy="44.8" r="0.91"/><circle cx="68.9" cy="44.4" r="0.96"/><circle cx="73.0" cy="43.3" r="1.10"/><circle cx="69.7" cy="42.5" r="0.82"/><circle cx="75.0" cy="44.3" r="1.07"/><circle cx="76.1" cy="45.1" r="1.13"/><circle cx="75.6" cy="38.5" r="0.63"/><circle cx="70.6" cy="39.1" r="0.66"/><circle cx="73.7" cy="43.6" r="0.91"/><circle cx="71.5" cy="43.1" r="1.05"/><circle cx="74.8" cy="42.0" r="0.70"/><circle cx="74.7" cy="42.5" r="1.16"/><circle cx="74.6" cy="41.3" r="0.90"/><circle cx="73.1" cy="43.6" r="0.82"/><circle cx="72.0" cy="39.9" r="0.82"/><circle cx="74.8" cy="43.7" r="0.70"/><circle cx="70.3" cy="40.9" r="0.84"/><circle cx="75.4" cy="42.6" r="0.83"/><circle cx="70.5" cy="39.9" r="0.84"/><circle cx="75.1" cy="39.3" r="0.86"/><circle cx="72.0" cy="43.7" r="1.01"/><circle cx="70.6" cy="43.5" r="0.88"/><circle cx="74.1" cy="44.5" r="1.01"/><circle cx="76.4" cy="42.9" r="0.86"/><circle cx="67.4" cy="41.6" r="0.74"/><circle cx="66.8" cy="42.4" r="0.69"/><circle cx="63.0" cy="44.2" r="0.95"/><circle cx="61.8" cy="41.3" r="0.94"/><circle cx="62.4" cy="41.9" r="0.83"/><circle cx="66.1" cy="45.2" r="0.56"/><circle cx="66.1" cy="46.0" r="0.58"/><circle cx="64.8" cy="44.4" r="0.98"/><circle cx="64.2" cy="44.3" r="0.96"/><circle cx="66.8" cy="46.0" r="0.88"/><circle cx="66.5" cy="40.8" r="0.84"/><circle cx="64.2" cy="43.6" r="0.93"/><circle cx="60.8" cy="43.8" r="0.61"/><circle cx="64.0" cy="40.5" r="0.59"/><circle cx="62.8" cy="45.7" r="0.96"/></g>
<polygon points="58.6,1.0 86.6,1.0 86.6,12.2 81.4,12.2 81.4,19.9 109.4,19.9 109.4,46.0 110.4,46.0 110.4,61.0 105.7,61.0 105.7,69.2 96.0,69.2 96.0,73.4 91.2,73.4 91.2,77.5 51.8,77.5 51.8,87.4 46.0,87.4 46.0,92.0 28.0,92.0 28.0,96.5 0.7,96.5 0.7,82.2 4.7,82.2 4.7,64.0 14.0,64.0 14.0,43.0 19.7,43.0 19.7,26.7 38.3,26.7 38.3,24.0 47.7,24.0 47.7,15.3 58.6,15.3" fill="none" stroke="#2a1ee0" stroke-width="1.5"/>
</g>
<text x="87.5" y="36.5" fill="#fbf3ee" stroke="#fbf3ee" stroke-width="0.3" font-size="10.5" text-anchor="middle">L1</text>
<text x="16.5" y="75.0" fill="#3a3a20" stroke="#3a3a20" stroke-width="0.3" font-size="10.5" text-anchor="middle">H1</text>
<text x="110.5" y="95.2" fill="#111" stroke="#111" stroke-width="0.4" font-size="12.3" text-anchor="end">2.0 km</text>

</svg>
<rect x="410.40" y="9.40" width="112.00" height="97.10" fill="none" stroke="#262626" stroke-width="1"/>
<svg x="37.00" y="119.60" width="114.30" height="98.30" viewBox="0 0 113.0 97.4" preserveAspectRatio="none" overflow="hidden">
<defs><filter id="fp5" x="-50%" y="-50%" width="200%" height="200%"><feGaussianBlur stdDeviation="1.3"/></filter></defs>
<rect width="113.0" height="97.4" fill="#ffff14"/>
<g transform="translate(-0.50 -0.10)">
<g filter="url(#fp5)">
<path d="M29.0,26.9 C31.6,23.6 37.0,21.4 41.5,19.7 C46.0,18.0 51.5,16.8 56.0,16.6 C60.5,16.4 63.9,18.7 68.4,18.7 C72.9,18.7 78.4,17.0 82.9,16.6 C87.4,16.2 91.8,15.9 95.3,16.6 C98.8,17.3 102.0,18.3 103.6,20.7 C105.2,23.1 104.7,27.0 104.7,31.1 C104.7,35.2 104.5,41.1 103.6,45.6 C102.7,50.1 101.2,54.5 99.5,58.0 C97.8,61.5 96.1,63.9 93.3,66.3 C90.5,68.7 86.0,70.4 82.9,72.5 C79.8,74.6 78.0,77.8 74.6,78.8 C71.1,79.8 66.7,79.1 62.2,78.8 C57.7,78.5 51.9,78.1 47.7,76.7 C43.6,75.3 40.1,72.9 37.3,70.5 C34.5,68.1 32.8,65.3 31.1,62.2 C29.4,59.1 27.8,55.6 26.9,51.8 C26.0,48.0 25.5,43.5 25.9,39.4 C26.2,35.2 26.4,30.2 29.0,26.9Z" fill="#fffcd0"/>
<path d="M38.3,34.2 C40.1,32.0 44.4,30.6 47.7,30.1 C51.0,29.6 55.9,29.2 58.0,31.1 C60.1,33.0 59.4,38.4 60.1,41.5 C60.8,44.6 60.5,47.8 62.2,49.7 C63.9,51.6 68.6,51.1 70.5,52.8 C72.4,54.5 73.6,57.5 73.6,60.1 C73.6,62.7 72.4,66.7 70.5,68.4 C68.6,70.1 65.3,70.8 62.2,70.5 C59.1,70.2 54.9,67.7 51.8,66.3 C48.7,64.9 45.8,64.3 43.5,62.2 C41.2,60.1 39.4,57.0 38.3,53.9 C37.2,50.8 36.9,46.8 36.9,43.5 C36.9,40.2 36.5,36.4 38.3,34.2Z" fill="#ffbc14"/>
<path d="M12.4,29.0 C14.1,27.3 18.6,24.5 20.7,24.9 C22.8,25.2 23.7,27.7 24.9,31.1 C26.1,34.6 27.7,41.1 28.0,45.6 C28.3,50.1 27.8,56.3 26.9,58.0 C26.0,59.7 24.2,57.7 22.8,56.0 C21.4,54.3 20.4,50.1 18.7,47.7 C17.0,45.3 13.8,43.6 12.4,41.5 C11.0,39.4 10.4,37.3 10.4,35.2 C10.4,33.1 10.7,30.7 12.4,29.0Z" fill="#14f014"/>
<ellipse cx="30.0" cy="13.5" rx="2.5" ry="3.0" fill="#14f014"/>
<ellipse cx="58.0" cy="88.0" rx="10.0" ry="7.0" fill="#14f014"/>
<ellipse cx="37.3" cy="85.0" rx="2.5" ry="2.5" fill="#fffcd0"/>
</g>
<polyline points="30.0,76.5 28.2,74.1 25.7,70.4 24.5,65.6 23.3,59.4 20.9,54.5 17.8,52.1 17.2,47.2 19.7,43.6 24.5,39.9 28.2,36.9 34.5,36.0 40.7,36.9 45.4,39.2 48.5,42.4 51.6,44.0 55.0,46.2 59.5,47.9 65.7,49.4 72.0,50.2 78.2,51.8 81.3,53.3 84.4,56.5 87.6,59.6 90.7,62.8 92.3,65.9 90.7,70.6 86.0,73.7 82.9,72.2 84.4,69.1 87.0,70.3 89.1,72.2 93.8,72.2 97.0,73.7 100.0,72.2 103.2,75.3 107.9,72.2 113.0,70.6" fill="none" stroke="#201a10" stroke-width="0.85" stroke-opacity="0.85"/>
<polyline points="0.0,80.2 7.5,79.6 12.4,79.6 17.2,80.2 22.1,81.4" fill="none" stroke="#201a10" stroke-width="0.85" stroke-opacity="0.85"/>
<polyline points="22.0,75.9 24.5,74.8 27.0,76.3 30.0,77.7 29.4,81.4 30.0,86.4 29.4,90.0 27.0,87.6 25.7,85.0 24.5,81.4 22.7,79.0 22.0,75.9" fill="none" stroke="#201a10" stroke-width="0.85" stroke-opacity="0.85"/>
<polyline points="47.0,42.2 50.0,41.7 53.0,44.2 52.0,47.7 49.0,46.7 47.0,44.2 47.0,42.2" fill="none" stroke="#201a10" stroke-width="0.85" stroke-opacity="0.85"/>
<g fill="#2a1600" fill-opacity="0.75"><circle cx="67.4" cy="39.3" r="0.52"/><circle cx="68.9" cy="38.5" r="0.52"/><circle cx="81.1" cy="32.6" r="0.64"/><circle cx="69.0" cy="43.1" r="0.48"/><circle cx="69.0" cy="39.1" r="0.46"/><circle cx="82.2" cy="32.9" r="0.65"/><circle cx="68.8" cy="33.9" r="0.49"/><circle cx="56.8" cy="31.2" r="0.67"/><circle cx="69.8" cy="35.5" r="0.58"/><circle cx="62.0" cy="31.8" r="0.44"/><circle cx="63.2" cy="37.4" r="0.69"/><circle cx="74.5" cy="32.3" r="0.48"/><circle cx="76.9" cy="33.5" r="0.68"/><circle cx="73.2" cy="32.1" r="0.52"/><circle cx="59.2" cy="33.9" r="0.44"/><circle cx="61.4" cy="45.6" r="0.40"/><circle cx="79.1" cy="39.0" r="0.48"/><circle cx="57.1" cy="35.8" r="0.50"/><circle cx="72.9" cy="36.9" r="0.52"/><circle cx="70.7" cy="43.8" r="0.48"/><circle cx="57.8" cy="43.5" r="0.49"/><circle cx="48.8" cy="33.1" r="0.42"/><circle cx="73.0" cy="38.4" r="0.64"/><circle cx="62.0" cy="34.6" r="0.49"/><circle cx="71.4" cy="42.0" r="0.40"/><circle cx="60.8" cy="26.9" r="0.70"/><circle cx="64.8" cy="24.4" r="0.39"/><circle cx="61.3" cy="49.6" r="0.64"/><circle cx="48.8" cy="43.4" r="0.59"/><circle cx="70.1" cy="33.2" r="0.45"/><circle cx="62.4" cy="37.9" r="0.51"/><circle cx="74.8" cy="35.9" r="0.39"/><circle cx="72.3" cy="37.8" r="0.64"/><circle cx="62.2" cy="40.1" r="0.42"/><circle cx="76.4" cy="36.4" r="0.45"/><circle cx="69.8" cy="37.6" r="0.44"/><circle cx="64.7" cy="34.4" r="0.40"/><circle cx="60.2" cy="37.2" r="0.71"/><circle cx="74.9" cy="41.3" r="0.64"/><circle cx="44.5" cy="45.0" r="0.54"/><circle cx="67.5" cy="42.1" r="0.40"/><circle cx="61.0" cy="38.8" r="0.68"/><circle cx="72.2" cy="31.9" r="0.40"/><circle cx="66.8" cy="40.7" r="0.45"/><circle cx="69.1" cy="47.0" r="0.43"/><circle cx="86.6" cy="40.6" r="0.57"/><circle cx="76.1" cy="36.7" r="0.68"/><circle cx="58.0" cy="29.7" r="0.63"/><circle cx="63.0" cy="37.1" r="0.45"/><circle cx="80.5" cy="29.4" r="0.69"/><circle cx="60.2" cy="43.3" r="0.65"/><circle cx="56.7" cy="29.8" r="0.56"/><circle cx="59.3" cy="30.7" r="0.47"/><circle cx="86.9" cy="31.2" r="0.41"/><circle cx="89.6" cy="34.7" r="0.61"/><circle cx="85.5" cy="40.0" r="0.43"/><circle cx="80.1" cy="35.5" r="0.40"/><circle cx="73.3" cy="43.2" r="0.57"/><circle cx="66.5" cy="25.5" r="0.46"/><circle cx="87.3" cy="37.2" r="0.39"/><circle cx="70.2" cy="35.3" r="0.65"/><circle cx="70.8" cy="27.0" r="0.57"/><circle cx="71.4" cy="34.7" r="0.61"/><circle cx="57.8" cy="46.2" r="0.64"/><circle cx="56.2" cy="38.1" r="0.39"/><circle cx="78.8" cy="38.4" r="0.55"/><circle cx="75.1" cy="31.9" r="0.43"/><circle cx="57.0" cy="43.5" r="0.56"/><circle cx="84.1" cy="37.6" r="0.66"/><circle cx="76.7" cy="40.2" r="0.51"/><circle cx="68.8" cy="32.8" r="0.46"/><circle cx="43.6" cy="38.1" r="0.42"/><circle cx="76.4" cy="41.6" r="0.68"/><circle cx="57.4" cy="36.6" r="0.67"/><circle cx="67.6" cy="35.2" r="0.68"/><circle cx="69.5" cy="41.0" r="0.66"/><circle cx="52.8" cy="41.2" r="0.44"/><circle cx="70.9" cy="34.8" r="0.43"/><circle cx="58.8" cy="37.2" r="0.56"/><circle cx="78.7" cy="32.5" r="0.39"/><circle cx="60.6" cy="37.3" r="0.89"/><circle cx="61.3" cy="32.8" r="0.67"/><circle cx="62.2" cy="38.9" r="0.82"/><circle cx="62.9" cy="29.2" r="0.97"/><circle cx="60.2" cy="32.5" r="0.80"/><circle cx="64.9" cy="33.8" r="1.12"/><circle cx="59.9" cy="38.8" r="1.05"/><circle cx="59.5" cy="33.6" r="0.71"/><circle cx="62.4" cy="33.1" r="0.99"/><circle cx="62.8" cy="35.6" r="0.71"/><circle cx="62.7" cy="33.8" r="1.12"/><circle cx="59.3" cy="36.9" r="0.82"/><circle cx="61.0" cy="34.4" r="0.85"/><circle cx="63.7" cy="34.5" r="0.98"/><circle cx="60.8" cy="36.5" r="0.64"/><circle cx="69.3" cy="35.6" r="1.08"/><circle cx="63.7" cy="31.6" r="1.14"/><circle cx="64.2" cy="37.2" r="0.90"/><circle cx="55.7" cy="32.9" r="1.04"/><circle cx="63.5" cy="34.8" r="0.98"/><circle cx="59.8" cy="32.0" r="0.96"/><circle cx="63.2" cy="33.5" r="1.13"/><circle cx="67.1" cy="39.5" r="1.11"/><circle cx="70.1" cy="36.4" r="0.75"/><circle cx="68.7" cy="40.5" r="1.17"/><circle cx="73.9" cy="36.8" r="0.85"/><circle cx="72.2" cy="36.5" r="0.85"/><circle cx="73.2" cy="38.1" r="0.92"/><circle cx="69.3" cy="35.4" r="0.83"/><circle cx="75.7" cy="37.2" r="0.71"/><circle cx="79.6" cy="40.2" r="1.16"/><circle cx="75.2" cy="36.7" r="0.80"/><circle cx="73.3" cy="38.8" r="0.75"/><circle cx="77.7" cy="36.2" r="1.05"/><circle cx="72.5" cy="39.2" r="0.79"/><circle cx="73.0" cy="37.6" r="1.06"/><circle cx="69.1" cy="35.7" r="1.15"/><circle cx="70.7" cy="40.4" r="0.72"/><circle cx="71.7" cy="38.3" r="0.80"/><circle cx="71.9" cy="38.5" r="1.17"/><circle cx="69.2" cy="42.1" r="1.01"/><circle cx="70.4" cy="35.1" r="1.14"/><circle cx="75.0" cy="35.8" r="0.93"/><circle cx="69.1" cy="35.0" r="0.93"/><circle cx="69.0" cy="38.0" r="1.09"/><circle cx="69.7" cy="38.1" r="0.72"/><circle cx="72.9" cy="36.9" r="0.84"/><circle cx="74.9" cy="35.4" r="0.72"/><circle cx="75.0" cy="40.4" r="0.57"/><circle cx="77.3" cy="38.7" r="1.02"/><circle cx="77.8" cy="40.0" r="0.97"/><circle cx="77.8" cy="37.7" r="0.83"/><circle cx="73.1" cy="39.5" r="0.65"/><circle cx="80.8" cy="33.0" r="0.90"/><circle cx="82.2" cy="36.8" r="0.74"/><circle cx="79.7" cy="35.9" r="0.84"/><circle cx="79.7" cy="40.7" r="1.00"/><circle cx="75.8" cy="41.7" r="0.99"/><circle cx="76.4" cy="38.7" r="0.86"/></g>
<polygon points="58.5,0.9 96.2,0.9 96.2,18.6 105.8,18.6 105.8,46.5 112.3,46.5 112.3,60.5 105.0,60.5 105.0,65.0 97.0,65.0 97.0,73.7 90.9,73.7 90.9,79.8 57.0,79.8 57.0,86.0 47.4,86.0 47.4,91.2 28.0,91.2 28.0,97.5 1.8,97.5 1.8,82.5 5.3,82.5 5.3,72.8 12.3,72.8 12.3,59.6 16.7,59.6 16.7,43.9 19.3,43.9 19.3,26.3 37.7,26.3 37.7,22.8 47.4,22.8 47.4,14.4 58.5,14.4" fill="none" stroke="#2a1ee0" stroke-width="1.5"/>
</g>
<text x="50.3" y="60.1" fill="#4a3a10" stroke="#4a3a10" stroke-width="0.3" font-size="10.5" text-anchor="middle">L1</text>
<text x="109.9" y="95.2" fill="#111" stroke="#111" stroke-width="0.4" font-size="12.3" text-anchor="end">2.5 km</text>

</svg>
<rect x="37.50" y="120.10" width="113.30" height="97.30" fill="none" stroke="#262626" stroke-width="1"/>
<svg x="161.70" y="119.60" width="113.90" height="98.30" viewBox="0 0 113.0 97.4" preserveAspectRatio="none" overflow="hidden">
<defs><filter id="fp6" x="-50%" y="-50%" width="200%" height="200%"><feGaussianBlur stdDeviation="1.3"/></filter></defs>
<rect width="113.0" height="97.4" fill="#20f014"/>
<g transform="translate(-0.20 -0.10)">
<g filter="url(#fp6)">
<ellipse cx="12.0" cy="8.0" rx="6.5" ry="10.0" fill="#90f010"/>
<ellipse cx="3.0" cy="72.0" rx="6.0" ry="14.0" fill="#90f010"/>
<ellipse cx="92.0" cy="6.0" rx="12.0" ry="5.0" fill="#70f010"/>
<path d="M24.9,31.1 C26.1,27.3 28.3,24.5 31.1,22.8 C33.9,21.1 38.4,21.7 41.5,20.7 C44.6,19.7 47.6,18.9 49.7,16.6 C51.8,14.3 51.8,8.9 53.9,7.0 C56.0,5.1 59.1,4.9 62.2,5.0 C65.3,5.1 69.7,5.2 72.5,7.5 C75.3,9.8 75.7,16.8 78.8,18.7 C81.9,20.6 87.1,18.0 91.2,18.7 C95.3,19.4 101.3,20.4 103.6,22.8 C105.9,25.2 105.0,28.7 105.0,33.2 C105.0,37.7 104.9,45.2 103.6,49.7 C102.3,54.2 99.8,57.0 97.4,60.1 C95.0,63.2 91.9,65.6 89.1,68.4 C86.3,71.2 83.9,74.5 80.8,76.7 C77.7,79.0 73.6,80.2 70.5,81.9 C67.4,83.6 65.3,85.5 62.2,87.0 C59.1,88.5 55.2,90.9 51.8,91.2 C48.3,91.5 44.6,90.5 41.5,89.1 C38.4,87.7 35.3,85.7 33.2,82.9 C31.1,80.1 30.4,76.3 29.0,72.5 C27.6,68.7 25.8,64.6 24.9,60.1 C24.0,55.6 23.8,50.4 23.8,45.6 C23.8,40.8 23.7,34.9 24.9,31.1Z" fill="#ffff14"/>
<path d="M33.2,41.5 C34.6,38.8 37.0,34.9 39.4,33.2 C41.8,31.5 44.2,31.6 47.7,31.1 C51.2,30.6 56.6,29.8 60.1,30.1 C63.6,30.5 67.4,31.3 68.4,33.2 C69.4,35.1 67.7,39.4 66.3,41.5 C64.9,43.6 60.8,43.9 60.1,45.6 C59.4,47.3 60.1,50.4 62.2,51.8 C64.3,53.2 69.7,52.5 72.5,53.9 C75.3,55.3 78.5,57.7 78.8,60.1 C79.1,62.5 77.4,66.3 74.6,68.4 C71.8,70.5 66.3,71.8 62.2,72.5 C58.1,73.2 53.5,73.2 49.7,72.5 C45.9,71.8 42.1,70.5 39.4,68.4 C36.6,66.3 34.6,63.2 33.2,60.1 C31.8,57.0 31.1,52.8 31.1,49.7 C31.1,46.6 31.8,44.2 33.2,41.5Z" fill="#fffcd0"/>
<ellipse cx="72.5" cy="38.3" rx="4.5" ry="4.5" fill="#14f014"/>
</g>
<polyline points="30.0,76.5 28.2,74.1 25.7,70.4 24.5,65.6 23.3,59.4 20.9,54.5 17.8,52.1 17.2,47.2 19.7,43.6 24.5,39.9 28.2,36.9 34.5,36.0 40.7,36.9 45.4,39.2 48.5,42.4 51.6,44.0 55.0,46.2 59.5,47.9 65.7,49.4 72.0,50.2 78.2,51.8 81.3,53.3 84.4,56.5 87.6,59.6 90.7,62.8 92.3,65.9 90.7,70.6 86.0,73.7 82.9,72.2 84.4,69.1 87.0,70.3 89.1,72.2 93.8,72.2 97.0,73.7 100.0,72.2 103.2,75.3 107.9,72.2 113.0,70.6" fill="none" stroke="#201a10" stroke-width="0.85" stroke-opacity="0.85"/>
<polyline points="0.0,80.2 7.5,79.6 12.4,79.6 17.2,80.2 22.1,81.4" fill="none" stroke="#201a10" stroke-width="0.85" stroke-opacity="0.85"/>
<polyline points="22.0,75.9 24.5,74.8 27.0,76.3 30.0,77.7 29.4,81.4 30.0,86.4 29.4,90.0 27.0,87.6 25.7,85.0 24.5,81.4 22.7,79.0 22.0,75.9" fill="none" stroke="#201a10" stroke-width="0.85" stroke-opacity="0.85"/>
<polyline points="47.0,42.2 50.0,41.7 53.0,44.2 52.0,47.7 49.0,46.7 47.0,44.2 47.0,42.2" fill="none" stroke="#201a10" stroke-width="0.85" stroke-opacity="0.85"/>
<g fill="#2a1600" fill-opacity="0.75"><circle cx="50.9" cy="31.0" r="0.65"/><circle cx="67.2" cy="33.0" r="0.69"/><circle cx="64.6" cy="35.7" r="0.70"/><circle cx="50.3" cy="28.9" r="0.42"/><circle cx="53.6" cy="35.5" r="0.56"/><circle cx="57.1" cy="34.7" r="0.46"/><circle cx="55.5" cy="42.7" r="0.64"/><circle cx="63.8" cy="40.3" r="0.43"/><circle cx="55.7" cy="33.8" r="0.39"/><circle cx="60.8" cy="33.3" r="0.46"/><circle cx="70.1" cy="34.2" r="0.48"/><circle cx="65.3" cy="34.0" r="0.61"/><circle cx="62.0" cy="43.0" r="0.61"/><circle cx="70.4" cy="33.5" r="0.48"/><circle cx="55.7" cy="36.6" r="0.43"/><circle cx="62.7" cy="36.2" r="0.58"/><circle cx="67.0" cy="35.1" r="0.50"/><circle cx="53.9" cy="41.0" r="0.54"/><circle cx="55.2" cy="38.7" r="0.62"/><circle cx="73.3" cy="38.3" r="0.39"/><circle cx="58.0" cy="28.2" r="0.39"/><circle cx="59.3" cy="31.8" r="0.58"/><circle cx="59.9" cy="35.1" r="0.44"/><circle cx="61.8" cy="34.4" r="0.63"/><circle cx="70.9" cy="31.4" r="0.50"/><circle cx="53.5" cy="38.4" r="0.64"/><circle cx="65.8" cy="38.7" r="0.65"/><circle cx="59.0" cy="34.3" r="0.70"/><circle cx="62.6" cy="36.7" r="0.59"/><circle cx="62.8" cy="33.4" r="0.69"/><circle cx="53.0" cy="34.2" r="0.49"/><circle cx="59.1" cy="36.3" r="0.43"/><circle cx="50.4" cy="24.0" r="0.44"/><circle cx="74.8" cy="38.1" r="0.56"/><circle cx="54.3" cy="36.4" r="0.58"/><circle cx="61.1" cy="31.6" r="0.52"/><circle cx="70.5" cy="37.7" r="0.40"/><circle cx="46.6" cy="35.3" r="0.43"/><circle cx="56.3" cy="26.5" r="0.59"/><circle cx="58.7" cy="33.4" r="0.53"/><circle cx="64.9" cy="40.4" r="0.48"/><circle cx="36.1" cy="38.9" r="0.67"/><circle cx="64.5" cy="34.4" r="0.55"/><circle cx="57.1" cy="31.0" r="0.48"/><circle cx="55.2" cy="36.1" r="0.51"/><circle cx="62.3" cy="33.7" r="0.91"/><circle cx="53.7" cy="34.0" r="0.64"/><circle cx="55.4" cy="36.6" r="1.04"/><circle cx="53.2" cy="36.0" r="0.99"/><circle cx="54.7" cy="31.9" r="0.98"/><circle cx="53.4" cy="35.8" r="0.74"/><circle cx="51.7" cy="34.2" r="0.95"/><circle cx="54.4" cy="37.5" r="0.93"/><circle cx="55.7" cy="33.9" r="0.87"/><circle cx="56.0" cy="36.2" r="0.83"/><circle cx="57.5" cy="32.0" r="1.00"/><circle cx="53.9" cy="35.8" r="0.97"/><circle cx="57.1" cy="32.8" r="1.02"/><circle cx="58.6" cy="32.3" r="1.09"/><circle cx="58.9" cy="33.5" r="0.86"/><circle cx="65.4" cy="36.5" r="1.07"/><circle cx="59.2" cy="34.3" r="0.96"/><circle cx="62.8" cy="33.1" r="0.99"/><circle cx="59.8" cy="32.9" r="0.81"/><circle cx="59.9" cy="32.2" r="0.92"/><circle cx="62.9" cy="33.7" r="0.68"/><circle cx="59.6" cy="34.8" r="0.71"/><circle cx="61.6" cy="32.1" r="0.62"/><circle cx="61.2" cy="34.2" r="0.62"/><circle cx="64.5" cy="35.0" r="0.69"/><circle cx="63.2" cy="34.4" r="0.83"/><circle cx="60.5" cy="35.4" r="0.90"/><circle cx="63.4" cy="37.2" r="0.60"/><circle cx="61.3" cy="34.7" r="0.80"/></g>
<polygon points="51.8,2.6 78.3,2.6 78.3,20.2 104.9,20.2 104.9,47.4 100.2,47.4 100.2,56.1 97.6,56.1 97.6,73.7 92.3,73.7 92.3,79.8 65.1,79.8 65.1,88.6 46.5,88.6 46.5,93.0 37.7,93.0 37.7,97.5 0.0,97.5 0.0,84.2 4.4,84.2 4.4,73.7 8.8,73.7 8.8,65.0 14.0,65.0 14.0,43.0 19.3,43.0 19.3,33.3 30.7,33.3 30.7,23.7 47.4,23.7 47.4,14.9 51.8,14.9" fill="none" stroke="#2a1ee0" stroke-width="1.5"/>
</g>
<text x="45.0" y="60.1" fill="#4a3a10" stroke="#4a3a10" stroke-width="0.3" font-size="10.5" text-anchor="middle">L1</text>
<text x="109.1" y="95.2" fill="#111" stroke="#111" stroke-width="0.4" font-size="12.3" text-anchor="end">3.0 km</text>

</svg>
<rect x="162.20" y="120.10" width="112.90" height="97.30" fill="none" stroke="#262626" stroke-width="1"/>
<svg x="286.30" y="119.60" width="113.40" height="98.30" viewBox="0 0 113.0 97.4" preserveAspectRatio="none" overflow="hidden">
<defs><filter id="fp7" x="-50%" y="-50%" width="200%" height="200%"><feGaussianBlur stdDeviation="1.1"/></filter></defs>
<rect width="113.0" height="97.4" fill="#08f414"/>
<g transform="translate(-0.80 -0.10)">
<g filter="url(#fp7)">
<ellipse cx="26.0" cy="45.0" rx="8.0" ry="10.0" fill="#10d840"/>
<ellipse cx="72.0" cy="82.0" rx="14.0" ry="5.0" fill="#10d840"/>
<ellipse cx="95.0" cy="64.0" rx="6.0" ry="4.0" fill="#10d840"/>
<path d="M35.2,27.7 C37.1,26.6 41.5,26.2 45.0,26.6 C48.5,27.0 53.0,28.6 55.9,29.9 C58.8,31.2 61.0,32.7 62.5,34.3 C64.0,35.9 64.6,37.9 64.6,39.7 C64.6,41.5 64.0,43.8 62.5,45.2 C61.0,46.6 57.7,47.6 55.9,47.9 C54.1,48.2 52.5,47.6 51.6,46.8 C50.7,46.0 51.2,44.0 50.5,43.0 C49.8,42.0 48.5,41.1 47.2,40.8 C45.9,40.5 43.7,40.6 42.8,41.3 C41.9,42.0 41.3,43.7 41.7,45.2 C42.1,46.8 44.2,48.8 45.0,50.6 C45.8,52.4 46.1,53.9 46.6,56.1 C47.1,58.3 47.4,61.7 48.3,63.7 C49.2,65.8 50.9,66.2 52.0,68.4 C53.1,70.6 55.3,74.8 54.9,76.7 C54.5,78.6 51.9,79.6 49.7,79.8 C47.5,80.0 44.2,78.9 41.5,77.7 C38.8,76.5 35.3,74.4 33.2,72.5 C31.1,70.6 29.2,68.7 29.0,66.3 C28.8,63.9 31.4,60.8 32.1,58.0 C32.9,55.2 33.4,52.5 33.5,49.7 C33.6,47.0 33.0,44.2 33.0,41.5 C33.0,38.8 33.1,35.5 33.5,33.2 C33.9,30.9 33.3,28.8 35.2,27.7Z" fill="#ffff14"/>
<path d="M56.0,74.6 C55.1,73.4 54.2,70.5 54.9,68.4 C55.6,66.3 58.2,64.3 60.1,62.2 C62.0,60.1 64.2,57.7 66.3,56.0 C68.4,54.3 70.4,53.4 72.5,51.8 C74.6,50.2 76.7,48.0 78.8,46.6 C80.9,45.2 83.8,43.0 85.0,43.5 C86.2,44.0 86.3,47.6 86.0,49.7 C85.7,51.8 84.1,53.9 82.9,56.0 C81.7,58.1 80.5,60.1 78.8,62.2 C77.1,64.3 74.6,66.5 72.5,68.4 C70.4,70.3 68.4,72.4 66.3,73.6 C64.2,74.8 61.8,75.4 60.1,75.6 C58.4,75.8 56.9,75.8 56.0,74.6Z" fill="#ffff14"/>
</g>
<polyline points="30.0,76.5 28.2,74.1 25.7,70.4 24.5,65.6 23.3,59.4 20.9,54.5 17.8,52.1 17.2,47.2 19.7,43.6 24.5,39.9 28.2,36.9 34.5,36.0 40.7,36.9 45.4,39.2 48.5,42.4 51.6,44.0 55.0,46.2 59.5,47.9 65.7,49.4 72.0,50.2 78.2,51.8 81.3,53.3 84.4,56.5 87.6,59.6 90.7,62.8 92.3,65.9 90.7,70.6 86.0,73.7 82.9,72.2 84.4,69.1 87.0,70.3 89.1,72.2 93.8,72.2 97.0,73.7 100.0,72.2 103.2,75.3 107.9,72.2 113.0,70.6" fill="none" stroke="#201a10" stroke-width="0.85" stroke-opacity="0.85"/>
<polyline points="0.0,80.2 7.5,79.6 12.4,79.6 17.2,80.2 22.1,81.4" fill="none" stroke="#201a10" stroke-width="0.85" stroke-opacity="0.85"/>
<polyline points="22.0,75.9 24.5,74.8 27.0,76.3 30.0,77.7 29.4,81.4 30.0,86.4 29.4,90.0 27.0,87.6 25.7,85.0 24.5,81.4 22.7,79.0 22.0,75.9" fill="none" stroke="#201a10" stroke-width="0.85" stroke-opacity="0.85"/>
<polyline points="47.0,42.2 50.0,41.7 53.0,44.2 52.0,47.7 49.0,46.7 47.0,44.2 47.0,42.2" fill="none" stroke="#201a10" stroke-width="0.85" stroke-opacity="0.85"/>
<g fill="#2a1600" fill-opacity="0.75"><circle cx="58.0" cy="29.6" r="0.50"/><circle cx="56.0" cy="35.1" r="0.55"/><circle cx="49.4" cy="35.9" r="0.46"/><circle cx="56.4" cy="32.6" r="0.59"/><circle cx="55.5" cy="31.9" r="0.51"/><circle cx="54.9" cy="33.2" r="0.52"/><circle cx="57.1" cy="32.8" r="0.59"/><circle cx="53.0" cy="29.7" r="0.45"/><circle cx="62.0" cy="38.0" r="0.59"/><circle cx="54.3" cy="35.4" r="0.41"/><circle cx="53.8" cy="33.1" r="0.64"/><circle cx="53.7" cy="33.9" r="0.55"/><circle cx="76.0" cy="53.6" r="0.62"/><circle cx="76.1" cy="49.7" r="0.56"/><circle cx="80.9" cy="44.9" r="0.36"/><circle cx="77.3" cy="52.1" r="0.44"/><circle cx="78.3" cy="49.5" r="0.61"/><circle cx="78.0" cy="49.8" r="0.55"/></g>
<polygon points="55.0,11.4 84.0,11.4 84.0,31.0 102.6,31.0 102.6,56.0 99.5,56.0 99.5,65.3 84.0,65.3 84.0,75.0 82.0,75.0 82.0,80.0 62.0,80.0 62.0,87.0 50.8,87.0 50.8,92.2 42.5,92.2 42.5,97.5 4.2,97.5 4.2,83.0 9.3,83.0 9.3,64.0 16.6,64.0 16.6,51.8 19.7,51.8 19.7,40.4 24.9,40.4 24.9,33.0 34.2,33.0 34.2,22.8 55.0,22.8" fill="none" stroke="#2a1ee0" stroke-width="1.5"/>
</g>
<text x="62.7" y="73.6" fill="#4a3a10" stroke="#4a3a10" stroke-width="0.3" font-size="10.5" text-anchor="middle">L2</text>
<text x="108.6" y="95.2" fill="#111" stroke="#111" stroke-width="0.4" font-size="12.3" text-anchor="end">3.5 km</text>

</svg>
<rect x="286.80" y="120.10" width="112.40" height="97.30" fill="none" stroke="#262626" stroke-width="1"/>
<svg x="409.90" y="119.60" width="113.00" height="98.30" viewBox="0 0 113.0 97.4" preserveAspectRatio="none" overflow="hidden">
<defs><filter id="fp8" x="-50%" y="-50%" width="200%" height="200%"><feGaussianBlur stdDeviation="1.4"/></filter></defs>
<rect width="113.0" height="97.4" fill="#0cb846"/>
<g transform="translate(-0.40 -0.10)">
<g filter="url(#fp8)">
<path d="M37.3,28.0 C39.7,25.9 44.2,25.8 47.7,24.9 C51.2,24.0 54.5,23.0 58.0,22.8 C61.5,22.6 64.9,22.4 68.4,23.8 C71.9,25.2 75.7,29.2 78.8,31.1 C81.9,33.0 85.3,32.8 87.0,35.2 C88.7,37.6 89.1,42.5 89.1,45.6 C89.1,48.7 88.0,51.5 87.0,53.9 C86.0,56.3 84.3,57.7 82.9,60.1 C81.5,62.5 80.9,66.3 78.8,68.4 C76.7,70.5 73.3,70.8 70.5,72.5 C67.7,74.2 65.3,77.4 62.2,78.8 C59.1,80.2 55.2,81.1 51.8,80.8 C48.3,80.5 44.6,78.8 41.5,76.7 C38.4,74.6 35.3,71.5 33.2,68.4 C31.1,65.3 29.4,61.5 29.0,58.0 C28.6,54.5 30.4,51.2 31.1,47.7 C31.8,44.2 32.2,40.6 33.2,37.3 C34.2,34.0 34.9,30.1 37.3,28.0Z" fill="#26dc2c"/>
<ellipse cx="68.0" cy="31.0" rx="4.0" ry="6.0" fill="#10c850"/>
<ellipse cx="49.0" cy="63.0" rx="5.0" ry="3.0" fill="#10c850"/>
<ellipse cx="59.0" cy="57.0" rx="3.0" ry="4.0" fill="#18c8f8"/>
<ellipse cx="81.0" cy="89.0" rx="8.0" ry="11.0" fill="#18c8f8"/>
<ellipse cx="90.0" cy="59.0" rx="3.0" ry="5.0" fill="#18c8f8"/>
<ellipse cx="15.0" cy="96.0" rx="8.0" ry="5.0" fill="#18c8f8"/>
<ellipse cx="56.0" cy="35.2" rx="2.0" ry="2.0" fill="#ffff14"/>
</g>
<polyline points="30.0,76.5 28.2,74.1 25.7,70.4 24.5,65.6 23.3,59.4 20.9,54.5 17.8,52.1 17.2,47.2 19.7,43.6 24.5,39.9 28.2,36.9 34.5,36.0 40.7,36.9 45.4,39.2 48.5,42.4 51.6,44.0 55.0,46.2 59.5,47.9 65.7,49.4 72.0,50.2 78.2,51.8 81.3,53.3 84.4,56.5 87.6,59.6 90.7,62.8 92.3,65.9 90.7,70.6 86.0,73.7 82.9,72.2 84.4,69.1 87.0,70.3 89.1,72.2 93.8,72.2 97.0,73.7 100.0,72.2 103.2,75.3 107.9,72.2 113.0,70.6" fill="none" stroke="#201a10" stroke-width="0.85" stroke-opacity="0.85"/>
<polyline points="0.0,80.2 7.5,79.6 12.4,79.6 17.2,80.2 22.1,81.4" fill="none" stroke="#201a10" stroke-width="0.85" stroke-opacity="0.85"/>
<polyline points="22.0,75.9 24.5,74.8 27.0,76.3 30.0,77.7 29.4,81.4 30.0,86.4 29.4,90.0 27.0,87.6 25.7,85.0 24.5,81.4 22.7,79.0 22.0,75.9" fill="none" stroke="#201a10" stroke-width="0.85" stroke-opacity="0.85"/>
<polyline points="47.0,42.2 50.0,41.7 53.0,44.2 52.0,47.7 49.0,46.7 47.0,44.2 47.0,42.2" fill="none" stroke="#201a10" stroke-width="0.85" stroke-opacity="0.85"/>
<g fill="#2a1600" fill-opacity="0.75"><circle cx="55.2" cy="37.5" r="0.44"/><circle cx="59.3" cy="37.6" r="0.37"/><circle cx="59.3" cy="37.3" r="0.29"/><circle cx="55.0" cy="36.5" r="0.30"/><circle cx="51.0" cy="38.6" r="0.31"/><circle cx="56.7" cy="40.2" r="0.51"/></g>
<polygon points="50.8,16.6 76.7,16.6 76.7,31.0 98.4,31.0 98.4,47.7 95.3,47.7 95.3,72.5 72.5,72.5 72.5,79.8 62.2,79.8 62.2,89.0 33.2,89.0 33.2,97.5 8.3,97.5 8.3,69.4 14.5,69.4 14.5,38.3 37.3,38.3 37.3,29.0 50.8,29.0" fill="none" stroke="#2a1ee0" stroke-width="1.5"/>
</g>
<text x="50.3" y="80.8" fill="#4a3a10" stroke="#4a3a10" stroke-width="0.3" font-size="10.5" text-anchor="middle">L2</text>
<text x="108.0" y="95.2" fill="#111" stroke="#111" stroke-width="0.4" font-size="12.3" text-anchor="end">4.0 km</text>

</svg>
<rect x="410.40" y="120.10" width="112.00" height="97.30" fill="none" stroke="#262626" stroke-width="1"/>
<svg x="37.30" y="281.20" width="93.40" height="80.90" viewBox="0 0 92.6 80.1" preserveAspectRatio="none" overflow="hidden">
<defs><filter id="fp9" x="-50%" y="-50%" width="200%" height="200%"><feGaussianBlur stdDeviation="2.0"/></filter></defs>
<rect width="92.6" height="80.1" fill="#c8322e"/>
<g transform="translate(-0.80 -0.70)">
<g filter="url(#fp9)">
<ellipse cx="15.5" cy="5.0" rx="5.0" ry="5.0" fill="#f42a22"/>
<ellipse cx="56.4" cy="25.6" rx="4.0" ry="6.0" fill="#e02a26"/>
<ellipse cx="34.2" cy="47.9" rx="3.5" ry="5.0" fill="#e02a26"/>
</g>
<polyline points="24.6,62.9 23.1,60.9 21.1,57.9 20.1,53.9 19.1,48.9 17.1,44.8 14.6,42.9 14.1,38.8 16.1,35.8 20.1,32.8 23.1,30.3 28.3,29.6 33.4,30.3 37.2,32.2 39.7,34.8 42.3,36.2 45.1,38.0 48.8,39.4 53.8,40.6 59.0,41.3 64.1,42.6 66.6,43.8 69.2,46.5 71.8,49.1 74.3,51.6 75.6,54.2 74.3,58.1 70.5,60.6 67.9,59.4 69.2,56.8 71.3,57.8 73.0,59.4 76.9,59.4 79.5,60.6 81.9,59.4 84.6,61.9 88.4,59.4 92.6,58.1" fill="none" stroke="#201a10" stroke-width="0.85" stroke-opacity="0.85"/>
<polyline points="0.0,66.0 6.1,65.5 10.2,65.5 14.1,66.0 18.1,67.0" fill="none" stroke="#201a10" stroke-width="0.85" stroke-opacity="0.85"/>
<polyline points="18.0,62.4 20.1,61.5 22.1,62.8 24.6,63.9 24.1,67.0 24.6,71.0 24.1,74.0 22.1,72.0 21.1,69.9 20.1,67.0 18.6,65.0 18.0,62.4" fill="none" stroke="#201a10" stroke-width="0.85" stroke-opacity="0.85"/>
<polyline points="38.5,34.7 41.0,34.3 43.4,36.3 42.6,39.2 40.2,38.4 38.5,36.3 38.5,34.7" fill="none" stroke="#201a10" stroke-width="0.85" stroke-opacity="0.85"/>
<g fill="#1a1000" fill-opacity="0.85"><circle cx="55.1" cy="37.0" r="0.76"/><circle cx="56.1" cy="38.1" r="0.90"/><circle cx="56.9" cy="37.4" r="0.77"/><circle cx="56.6" cy="37.3" r="0.84"/><circle cx="57.0" cy="36.9" r="0.57"/></g>
<line x1="0" y1="36.1" x2="92.6" y2="36.1" stroke="#f4e4dc" stroke-width="1"/>
<line x1="11.9" y1="80.1" x2="92.6" y2="-0.6" stroke="#f4e4dc" stroke-width="1"/>
<polygon points="35.0,9.4 46.2,9.4 46.2,17.1 90.6,17.1 90.6,53.0 82.9,53.0 82.9,65.8 59.8,65.8 59.8,61.2 11.6,61.2 11.6,21.4 35.0,21.4" fill="none" stroke="#2a1ee0" stroke-width="1.5"/>
<polygon points="20.5,68.4 30.4,68.4 30.4,77.8 20.5,77.8" fill="none" stroke="#2a1ee0" stroke-width="1.5"/>
</g>
<text x="3.9" y="34.2" fill="#fbf3ee" stroke="#fbf3ee" stroke-width="0.3" font-size="8.0" text-anchor="middle">A</text>
<text x="88.4" y="34.2" fill="#fbf3ee" stroke="#fbf3ee" stroke-width="0.3" font-size="8.0" text-anchor="middle">A'</text>
<text x="8.7" y="77.5" fill="#fbf3ee" stroke="#fbf3ee" stroke-width="0.3" font-size="8.0" text-anchor="middle">B</text>
<text x="87.0" y="13.6" fill="#fbf3ee" stroke="#fbf3ee" stroke-width="0.3" font-size="8.0" text-anchor="middle">B'</text>
<text x="88.4" y="78.2" fill="#111" stroke="#111" stroke-width="0.4" font-size="11.0" text-anchor="end">0.5 km</text>

</svg>
<rect x="37.80" y="281.70" width="92.40" height="79.90" fill="none" stroke="#262626" stroke-width="1"/>
<svg x="134.60" y="281.20" width="93.50" height="80.90" viewBox="0 0 92.6 80.1" preserveAspectRatio="none" overflow="hidden">
<defs><filter id="fp10" x="-50%" y="-50%" width="200%" height="200%"><feGaussianBlur stdDeviation="2.0"/></filter></defs>
<rect width="92.6" height="80.1" fill="#fc1c16"/>
<g transform="translate(-1.10 -0.70)">
<g filter="url(#fp10)">
<ellipse cx="17.0" cy="5.0" rx="9.0" ry="5.0" fill="#f86a28"/>
<ellipse cx="40.0" cy="26.0" rx="4.0" ry="6.0" fill="#f86a2c"/>
<ellipse cx="25.0" cy="74.0" rx="4.0" ry="4.0" fill="#f89030"/>
</g>
<polyline points="24.6,62.9 23.1,60.9 21.1,57.9 20.1,53.9 19.1,48.9 17.1,44.8 14.6,42.9 14.1,38.8 16.1,35.8 20.1,32.8 23.1,30.3 28.3,29.6 33.4,30.3 37.2,32.2 39.7,34.8 42.3,36.2 45.1,38.0 48.8,39.4 53.8,40.6 59.0,41.3 64.1,42.6 66.6,43.8 69.2,46.5 71.8,49.1 74.3,51.6 75.6,54.2 74.3,58.1 70.5,60.6 67.9,59.4 69.2,56.8 71.3,57.8 73.0,59.4 76.9,59.4 79.5,60.6 81.9,59.4 84.6,61.9 88.4,59.4 92.6,58.1" fill="none" stroke="#201a10" stroke-width="0.85" stroke-opacity="0.85"/>
<polyline points="0.0,66.0 6.1,65.5 10.2,65.5 14.1,66.0 18.1,67.0" fill="none" stroke="#201a10" stroke-width="0.85" stroke-opacity="0.85"/>
<polyline points="18.0,62.4 20.1,61.5 22.1,62.8 24.6,63.9 24.1,67.0 24.6,71.0 24.1,74.0 22.1,72.0 21.1,69.9 20.1,67.0 18.6,65.0 18.0,62.4" fill="none" stroke="#201a10" stroke-width="0.85" stroke-opacity="0.85"/>
<polyline points="38.5,34.7 41.0,34.3 43.4,36.3 42.6,39.2 40.2,38.4 38.5,36.3 38.5,34.7" fill="none" stroke="#201a10" stroke-width="0.85" stroke-opacity="0.85"/>
<g fill="#1a1000" fill-opacity="0.85"><circle cx="57.1" cy="37.2" r="0.56"/><circle cx="57.4" cy="35.3" r="0.72"/><circle cx="58.1" cy="35.6" r="0.90"/><circle cx="56.8" cy="34.7" r="0.75"/><circle cx="56.0" cy="35.5" r="0.91"/></g>
<polygon points="31.6,9.4 42.7,9.4 42.7,17.0 92.6,17.0 92.6,41.9 89.7,41.9 89.7,54.7 82.0,54.7 82.0,65.5 58.0,65.5 58.0,60.7 9.4,60.7 9.4,31.6 17.0,31.6 17.0,21.4 31.6,21.4" fill="none" stroke="#2a1ee0" stroke-width="1.5"/>
<polygon points="19.0,68.4 30.0,68.4 30.0,78.6 19.0,78.6" fill="none" stroke="#2a1ee0" stroke-width="1.5"/>
</g>
<text x="88.4" y="78.2" fill="#111" stroke="#111" stroke-width="0.4" font-size="11.0" text-anchor="end">1.0 km</text>

</svg>
<rect x="135.10" y="281.70" width="92.50" height="79.90" fill="none" stroke="#262626" stroke-width="1"/>
<svg x="232.50" y="281.20" width="93.70" height="80.90" viewBox="0 0 92.6 80.1" preserveAspectRatio="none" overflow="hidden">
<defs><filter id="fp11" x="-50%" y="-50%" width="200%" height="200%"><feGaussianBlur stdDeviation="1.2"/></filter></defs>
<rect width="92.6" height="80.1" fill="#ffc612"/>
<g transform="translate(-1.00 -0.70)">
<g filter="url(#fp11)">
<ellipse cx="26.5" cy="31.0" rx="4.0" ry="12.0" fill="#fcd860"/>
<ellipse cx="22.0" cy="10.0" rx="6.5" ry="8.5" fill="#fdf9c8"/>
<ellipse cx="22.5" cy="11.0" rx="2.5" ry="3.5" fill="#fce070"/>
<path d="M42.7,15.4 C45.0,14.0 51.6,13.1 54.7,13.7 C57.8,14.3 59.2,16.2 61.5,18.8 C63.8,21.4 67.0,25.6 68.4,29.0 C69.8,32.4 70.6,36.5 70.0,39.3 C69.4,42.1 67.3,45.1 65.0,46.0 C62.7,46.9 59.0,44.9 56.4,44.4 C53.8,43.9 51.9,43.6 49.6,42.7 C47.3,41.9 44.4,41.0 42.7,39.3 C41.0,37.6 39.6,35.4 39.3,32.5 C39.0,29.6 40.4,25.1 41.0,22.2 C41.6,19.3 40.4,16.8 42.7,15.4Z" fill="#fdf9c8"/>
<ellipse cx="29.0" cy="43.0" rx="4.0" ry="5.0" fill="#fdf9c8"/>
<ellipse cx="44.5" cy="55.5" rx="5.0" ry="6.0" fill="#fdf9c8"/>
<ellipse cx="27.0" cy="70.5" rx="3.5" ry="3.0" fill="#fdf9c8"/>
<ellipse cx="73.5" cy="20.5" rx="4.0" ry="2.0" fill="#f8a020"/>
</g>
<polyline points="24.6,62.9 23.1,60.9 21.1,57.9 20.1,53.9 19.1,48.9 17.1,44.8 14.6,42.9 14.1,38.8 16.1,35.8 20.1,32.8 23.1,30.3 28.3,29.6 33.4,30.3 37.2,32.2 39.7,34.8 42.3,36.2 45.1,38.0 48.8,39.4 53.8,40.6 59.0,41.3 64.1,42.6 66.6,43.8 69.2,46.5 71.8,49.1 74.3,51.6 75.6,54.2 74.3,58.1 70.5,60.6 67.9,59.4 69.2,56.8 71.3,57.8 73.0,59.4 76.9,59.4 79.5,60.6 81.9,59.4 84.6,61.9 88.4,59.4 92.6,58.1" fill="none" stroke="#201a10" stroke-width="0.85" stroke-opacity="0.85"/>
<polyline points="0.0,66.0 6.1,65.5 10.2,65.5 14.1,66.0 18.1,67.0" fill="none" stroke="#201a10" stroke-width="0.85" stroke-opacity="0.85"/>
<polyline points="18.0,62.4 20.1,61.5 22.1,62.8 24.6,63.9 24.1,67.0 24.6,71.0 24.1,74.0 22.1,72.0 21.1,69.9 20.1,67.0 18.6,65.0 18.0,62.4" fill="none" stroke="#201a10" stroke-width="0.85" stroke-opacity="0.85"/>
<polyline points="38.5,34.7 41.0,34.3 43.4,36.3 42.6,39.2 40.2,38.4 38.5,36.3 38.5,34.7" fill="none" stroke="#201a10" stroke-width="0.85" stroke-opacity="0.85"/>
<g fill="#1a1000" fill-opacity="0.85"><circle cx="55.0" cy="32.8" r="0.62"/><circle cx="38.8" cy="34.0" r="0.52"/><circle cx="56.1" cy="31.9" r="0.71"/><circle cx="49.7" cy="34.3" r="0.50"/><circle cx="51.9" cy="32.2" r="0.51"/><circle cx="55.3" cy="33.1" r="0.44"/><circle cx="53.6" cy="36.2" r="0.64"/><circle cx="42.8" cy="37.0" r="0.68"/><circle cx="64.5" cy="27.1" r="0.58"/><circle cx="47.1" cy="25.7" r="0.56"/><circle cx="57.6" cy="36.8" r="0.56"/><circle cx="54.1" cy="34.6" r="0.45"/><circle cx="49.4" cy="26.1" r="0.60"/><circle cx="51.7" cy="33.4" r="0.39"/><circle cx="48.9" cy="28.9" r="0.54"/><circle cx="54.5" cy="34.8" r="0.44"/><circle cx="58.6" cy="36.9" r="0.49"/><circle cx="47.0" cy="31.6" r="0.57"/><circle cx="52.6" cy="26.0" r="0.43"/><circle cx="64.4" cy="31.0" r="0.66"/><circle cx="38.9" cy="35.9" r="0.65"/><circle cx="53.6" cy="39.1" r="0.67"/><circle cx="53.2" cy="24.4" r="0.56"/><circle cx="51.9" cy="31.6" r="0.60"/><circle cx="58.8" cy="38.1" r="0.68"/><circle cx="51.4" cy="34.1" r="0.40"/><circle cx="49.5" cy="32.8" r="0.63"/><circle cx="47.5" cy="30.0" r="0.61"/><circle cx="56.9" cy="36.6" r="0.40"/><circle cx="42.8" cy="30.9" r="0.44"/><circle cx="45.8" cy="21.1" r="0.49"/><circle cx="54.2" cy="35.9" r="0.66"/><circle cx="62.1" cy="36.4" r="0.47"/><circle cx="53.5" cy="24.7" r="0.66"/><circle cx="55.7" cy="37.7" r="0.49"/><circle cx="56.6" cy="30.6" r="0.44"/><circle cx="50.9" cy="33.9" r="0.46"/><circle cx="51.4" cy="29.6" r="0.45"/><circle cx="57.3" cy="31.8" r="0.65"/><circle cx="49.9" cy="28.3" r="0.60"/><circle cx="42.9" cy="29.3" r="0.61"/><circle cx="52.0" cy="38.8" r="0.55"/><circle cx="55.6" cy="32.1" r="0.53"/><circle cx="55.2" cy="32.7" r="0.63"/><circle cx="59.6" cy="29.8" r="0.40"/><circle cx="53.8" cy="29.9" r="0.56"/><circle cx="55.1" cy="29.8" r="0.47"/><circle cx="57.1" cy="35.5" r="0.42"/><circle cx="49.1" cy="25.9" r="0.40"/><circle cx="42.5" cy="31.8" r="0.64"/><circle cx="56.7" cy="35.4" r="0.94"/><circle cx="47.7" cy="32.0" r="1.06"/><circle cx="58.3" cy="32.8" r="0.61"/><circle cx="54.2" cy="31.6" r="0.73"/><circle cx="57.2" cy="36.5" r="1.00"/><circle cx="58.3" cy="33.1" r="0.96"/><circle cx="55.7" cy="33.5" r="1.08"/><circle cx="56.5" cy="33.7" r="0.80"/><circle cx="54.0" cy="34.6" r="0.99"/><circle cx="59.5" cy="34.1" r="1.06"/><circle cx="51.8" cy="33.4" r="1.05"/><circle cx="58.2" cy="30.3" r="0.65"/><circle cx="59.1" cy="32.8" r="0.75"/><circle cx="53.9" cy="32.9" r="0.99"/><circle cx="51.5" cy="31.9" r="1.00"/><circle cx="55.8" cy="31.7" r="0.92"/><circle cx="52.8" cy="33.0" r="0.73"/><circle cx="58.0" cy="30.0" r="0.69"/><circle cx="59.7" cy="32.1" r="0.82"/><circle cx="55.7" cy="34.7" r="1.00"/><circle cx="59.5" cy="31.9" r="0.87"/><circle cx="55.7" cy="33.2" r="1.05"/><circle cx="56.5" cy="33.2" r="0.71"/><circle cx="55.7" cy="36.3" r="0.69"/><circle cx="60.0" cy="36.6" r="0.75"/><circle cx="47.3" cy="36.9" r="0.53"/><circle cx="47.5" cy="38.4" r="0.72"/><circle cx="44.6" cy="40.4" r="0.89"/><circle cx="41.7" cy="35.2" r="0.85"/><circle cx="49.6" cy="36.7" r="0.53"/><circle cx="46.4" cy="36.8" r="0.66"/><circle cx="49.0" cy="36.9" r="0.78"/><circle cx="50.0" cy="36.3" r="0.65"/><circle cx="46.0" cy="36.9" r="0.82"/><circle cx="45.9" cy="35.9" r="0.67"/></g>
<polygon points="31.6,17.0 89.0,17.0 89.0,27.4 91.5,27.4 91.5,49.6 89.0,49.6 89.0,53.0 83.8,53.0 83.8,56.4 81.2,56.4 81.2,66.7 34.2,66.7 34.2,73.5 19.0,73.5 19.0,80.5 0.7,80.5 0.7,70.5 4.0,70.5 4.0,61.6 6.8,61.6 6.8,52.2 14.0,52.2 14.0,26.6 24.6,26.6 24.6,21.4 31.6,21.4" fill="none" stroke="#2a1ee0" stroke-width="1.5"/>
</g>
<text x="50.0" y="25.6" fill="#333" stroke="#333" stroke-width="0.3" font-size="10.3" text-anchor="middle">HS</text>
<text x="88.4" y="78.2" fill="#111" stroke="#111" stroke-width="0.4" font-size="11.0" text-anchor="end">2.0 km</text>

</svg>
<rect x="233.00" y="281.70" width="92.70" height="79.90" fill="none" stroke="#262626" stroke-width="1"/>
<svg x="330.20" y="281.20" width="93.70" height="80.90" viewBox="0 0 92.6 80.1" preserveAspectRatio="none" overflow="hidden">
<defs><filter id="fp12" x="-50%" y="-50%" width="200%" height="200%"><feGaussianBlur stdDeviation="1.2"/></filter></defs>
<rect width="92.6" height="80.1" fill="#c6fc74"/>
<g transform="translate(-0.70 -0.70)">
<g filter="url(#fp12)">
<ellipse cx="29.0" cy="16.0" rx="6.0" ry="7.0" fill="#24ec24"/>
<ellipse cx="47.0" cy="22.0" rx="10.0" ry="8.0" fill="#24ec24"/>
<ellipse cx="27.0" cy="37.0" rx="4.0" ry="7.0" fill="#24ec24"/>
<ellipse cx="55.0" cy="37.0" rx="7.0" ry="6.0" fill="#24ec24"/>
<ellipse cx="40.0" cy="28.0" rx="6.0" ry="5.0" fill="#24ec24"/>
<ellipse cx="31.6" cy="66.7" rx="4.0" ry="3.5" fill="#24ec24"/>
<ellipse cx="77.0" cy="55.0" rx="3.0" ry="2.5" fill="#24ec24"/>
<path d="M59.8,18.8 C61.9,16.9 67.7,16.5 71.8,16.2 C75.9,15.9 82.5,14.1 84.6,17.1 C86.7,20.1 85.3,30.5 84.6,34.2 C83.9,37.9 82.4,38.3 80.3,39.3 C78.2,40.3 74.6,40.8 71.8,40.2 C69.0,39.6 65.3,38.0 63.2,35.9 C61.1,33.8 59.6,30.2 59.0,27.4 C58.4,24.5 57.7,20.7 59.8,18.8Z" fill="#ffff14"/>
<ellipse cx="68.4" cy="21.4" rx="3.0" ry="3.0" fill="#fdf9c8"/>
<path d="M32.5,33.3 C34.5,32.2 37.6,32.9 39.3,34.2 C41.0,35.5 42.1,38.1 42.7,41.0 C43.3,43.9 43.3,48.7 42.7,51.3 C42.1,53.9 41.3,55.4 39.3,56.4 C37.3,57.4 32.9,58.1 30.8,57.3 C28.7,56.4 27.1,54.0 26.5,51.3 C25.9,48.6 26.4,44.0 27.4,41.0 C28.4,38.0 30.5,34.4 32.5,33.3Z" fill="#ffff14"/>
<ellipse cx="12.8" cy="41.5" rx="3.5" ry="5.5" fill="#ffff14"/>
</g>
<polyline points="24.6,62.9 23.1,60.9 21.1,57.9 20.1,53.9 19.1,48.9 17.1,44.8 14.6,42.9 14.1,38.8 16.1,35.8 20.1,32.8 23.1,30.3 28.3,29.6 33.4,30.3 37.2,32.2 39.7,34.8 42.3,36.2 45.1,38.0 48.8,39.4 53.8,40.6 59.0,41.3 64.1,42.6 66.6,43.8 69.2,46.5 71.8,49.1 74.3,51.6 75.6,54.2 74.3,58.1 70.5,60.6 67.9,59.4 69.2,56.8 71.3,57.8 73.0,59.4 76.9,59.4 79.5,60.6 81.9,59.4 84.6,61.9 88.4,59.4 92.6,58.1" fill="none" stroke="#201a10" stroke-width="0.85" stroke-opacity="0.85"/>
<polyline points="0.0,66.0 6.1,65.5 10.2,65.5 14.1,66.0 18.1,67.0" fill="none" stroke="#201a10" stroke-width="0.85" stroke-opacity="0.85"/>
<polyline points="18.0,62.4 20.1,61.5 22.1,62.8 24.6,63.9 24.1,67.0 24.6,71.0 24.1,74.0 22.1,72.0 21.1,69.9 20.1,67.0 18.6,65.0 18.0,62.4" fill="none" stroke="#201a10" stroke-width="0.85" stroke-opacity="0.85"/>
<polyline points="38.5,34.7 41.0,34.3 43.4,36.3 42.6,39.2 40.2,38.4 38.5,36.3 38.5,34.7" fill="none" stroke="#201a10" stroke-width="0.85" stroke-opacity="0.85"/>
<g fill="#1a1000" fill-opacity="0.85"><circle cx="42.2" cy="24.8" r="0.49"/><circle cx="47.2" cy="22.2" r="0.51"/><circle cx="49.2" cy="24.2" r="0.61"/><circle cx="53.0" cy="29.4" r="0.65"/><circle cx="49.9" cy="26.7" r="0.57"/><circle cx="52.3" cy="31.5" r="0.48"/><circle cx="50.4" cy="30.6" r="0.50"/><circle cx="47.4" cy="26.9" r="0.55"/><circle cx="51.7" cy="28.9" r="0.43"/><circle cx="56.3" cy="31.4" r="0.47"/><circle cx="46.5" cy="29.8" r="0.58"/><circle cx="50.3" cy="25.7" r="0.60"/><circle cx="50.5" cy="31.7" r="0.64"/><circle cx="50.4" cy="30.7" r="0.36"/><circle cx="45.7" cy="24.1" r="0.37"/><circle cx="45.0" cy="29.4" r="0.45"/><circle cx="50.5" cy="31.9" r="0.39"/><circle cx="52.9" cy="28.1" r="0.51"/><circle cx="45.4" cy="25.6" r="0.49"/><circle cx="38.4" cy="28.0" r="0.40"/><circle cx="51.3" cy="31.4" r="0.57"/><circle cx="45.6" cy="30.4" r="0.37"/><circle cx="55.1" cy="32.1" r="0.42"/><circle cx="46.4" cy="29.5" r="0.44"/><circle cx="53.9" cy="35.1" r="0.54"/></g>
<polygon points="28.2,17.0 84.6,17.0 84.6,41.9 82.0,41.9 82.0,56.4 70.0,56.4 70.0,66.7 40.0,66.7 40.0,73.5 26.5,73.5 26.5,77.8 0.9,77.8 0.9,63.2 4.3,63.2 4.3,54.7 13.7,54.7 13.7,24.8 22.2,24.8 22.2,20.5 28.2,20.5" fill="none" stroke="#2a1ee0" stroke-width="1.5"/>
<polygon points="56.0,2.6 67.5,2.6 67.5,11.0 56.0,11.0" fill="none" stroke="#2a1ee0" stroke-width="1.5"/>
</g>
<text x="38.0" y="49.6" fill="#4a3a10" stroke="#4a3a10" stroke-width="0.3" font-size="10.5" text-anchor="middle">LS</text>
<text x="88.4" y="78.2" fill="#111" stroke="#111" stroke-width="0.4" font-size="11.0" text-anchor="end">3.0 km</text>

</svg>
<rect x="330.70" y="281.70" width="92.70" height="79.90" fill="none" stroke="#262626" stroke-width="1"/>
<svg x="429.10" y="281.20" width="93.30" height="80.90" viewBox="0 0 92.6 80.1" preserveAspectRatio="none" overflow="hidden">
<defs><filter id="fp13" x="-50%" y="-50%" width="200%" height="200%"><feGaussianBlur stdDeviation="1.4"/></filter></defs>
<rect width="92.6" height="80.1" fill="#04a25a"/>
<g transform="translate(-1.60 -0.70)">
<g filter="url(#fp13)">
<ellipse cx="40.0" cy="44.0" rx="16.0" ry="14.0" fill="#20c044"/>
<ellipse cx="70.0" cy="20.0" rx="12.0" ry="7.0" fill="#20c044"/>
<path d="M32.5,18.8 C33.1,16.8 36.4,13.8 39.3,12.0 C42.1,10.2 45.9,8.6 49.6,7.7 C53.3,6.8 58.4,6.4 61.5,6.8 C64.6,7.2 67.8,8.6 68.4,10.3 C69.0,12.0 66.7,15.4 65.0,17.1 C63.3,18.8 59.8,18.8 58.1,20.5 C56.4,22.2 55.8,25.4 54.7,27.4 C53.6,29.4 52.7,31.8 51.3,32.5 C49.9,33.2 47.6,32.8 46.2,31.6 C44.8,30.5 44.4,26.9 42.7,25.6 C41.0,24.3 37.6,25.0 35.9,23.9 C34.2,22.8 31.9,20.8 32.5,18.8Z" fill="#40d4f0"/>
<ellipse cx="50.0" cy="16.0" rx="7.0" ry="4.0" fill="#3058f0"/>
<ellipse cx="53.0" cy="15.5" rx="2.5" ry="2.0" fill="#a028d0"/>
<ellipse cx="40.0" cy="44.0" rx="10.0" ry="8.0" fill="#30e030"/>
<ellipse cx="70.0" cy="20.0" rx="9.0" ry="4.5" fill="#30e030"/>
<ellipse cx="37.0" cy="62.0" rx="6.0" ry="4.0" fill="#40d4f0"/>
</g>
<polyline points="24.6,62.9 23.1,60.9 21.1,57.9 20.1,53.9 19.1,48.9 17.1,44.8 14.6,42.9 14.1,38.8 16.1,35.8 20.1,32.8 23.1,30.3 28.3,29.6 33.4,30.3 37.2,32.2 39.7,34.8 42.3,36.2 45.1,38.0 48.8,39.4 53.8,40.6 59.0,41.3 64.1,42.6 66.6,43.8 69.2,46.5 71.8,49.1 74.3,51.6 75.6,54.2 74.3,58.1 70.5,60.6 67.9,59.4 69.2,56.8 71.3,57.8 73.0,59.4 76.9,59.4 79.5,60.6 81.9,59.4 84.6,61.9 88.4,59.4 92.6,58.1" fill="none" stroke="#201a10" stroke-width="0.85" stroke-opacity="0.85"/>
<polyline points="0.0,66.0 6.1,65.5 10.2,65.5 14.1,66.0 18.1,67.0" fill="none" stroke="#201a10" stroke-width="0.85" stroke-opacity="0.85"/>
<polyline points="18.0,62.4 20.1,61.5 22.1,62.8 24.6,63.9 24.1,67.0 24.6,71.0 24.1,74.0 22.1,72.0 21.1,69.9 20.1,67.0 18.6,65.0 18.0,62.4" fill="none" stroke="#201a10" stroke-width="0.85" stroke-opacity="0.85"/>
<polyline points="38.5,34.7 41.0,34.3 43.4,36.3 42.6,39.2 40.2,38.4 38.5,36.3 38.5,34.7" fill="none" stroke="#201a10" stroke-width="0.85" stroke-opacity="0.85"/>
<g fill="#1a1000" fill-opacity="0.85"><circle cx="44.9" cy="37.6" r="0.52"/><circle cx="39.0" cy="38.4" r="0.46"/><circle cx="41.5" cy="38.6" r="0.46"/><circle cx="47.5" cy="36.4" r="0.57"/><circle cx="49.7" cy="39.6" r="0.51"/><circle cx="42.0" cy="36.9" r="0.50"/></g>
<polygon points="43.5,2.2 56.5,2.2 56.5,18.8 50.7,18.8 50.7,25.4 81.8,25.4 81.8,44.9 79.7,44.9 79.7,54.3 60.8,54.3 60.8,60.1 56.5,60.1 56.5,66.7 37.0,66.7 37.0,78.3 17.4,78.3 17.4,73.2 2.2,73.2 2.2,59.4 5.8,59.4 5.8,48.6 9.4,48.6 9.4,34.8 45.6,34.8 45.6,26.1 37.7,26.1 37.7,29.7 25.4,29.7 25.4,13.8 37.7,13.8 37.7,8.0 43.5,8.0" fill="none" stroke="#2a1ee0" stroke-width="1.5"/>
</g>
<text x="40.5" y="50.4" fill="#1a6a20" stroke="#1a6a20" stroke-width="0.3" font-size="10.5" text-anchor="middle">LS</text>
<text x="88.4" y="78.2" fill="#111" stroke="#111" stroke-width="0.4" font-size="11.0" text-anchor="end">4.0 km</text>

</svg>
<rect x="429.60" y="281.70" width="92.30" height="79.90" fill="none" stroke="#262626" stroke-width="1"/>
<svg x="37.30" y="422.90" width="93.40" height="80.50" viewBox="0 0 92.6 79.7" preserveAspectRatio="none" overflow="hidden">
<defs><filter id="fp14" x="-50%" y="-50%" width="200%" height="200%"><feGaussianBlur stdDeviation="1.3"/></filter></defs>
<rect width="92.6" height="79.7" fill="#0ae60a"/>
<g transform="translate(-0.80 -0.40)">
<g filter="url(#fp14)">
<path d="M10.3,6.8 C12.2,5.8 15.5,6.6 17.1,7.7 C18.7,8.8 19.7,11.6 19.7,13.7 C19.7,15.8 18.4,17.9 17.1,20.5 C15.8,23.1 14.0,27.9 12.0,29.0 C10.0,30.1 6.7,28.8 5.1,27.4 C3.5,26.0 2.5,22.8 2.6,20.5 C2.8,18.2 4.7,16.0 6.0,13.7 C7.3,11.4 8.5,7.8 10.3,6.8Z" fill="#0aeefc"/>
<path d="M0.0,51.3 C1.4,46.8 5.7,51.6 8.5,53.0 C11.3,54.4 14.3,57.8 17.1,59.8 C20.0,61.8 22.8,63.7 25.6,65.0 C28.5,66.3 31.1,66.7 34.2,67.5 C37.3,68.3 41.0,69.0 44.4,70.0 C47.8,71.0 52.1,71.8 54.7,73.5 C57.3,75.2 69.1,78.9 60.0,80.0 C50.9,81.1 10.0,84.8 0.0,80.0 C-10.0,75.2 -1.4,55.8 0.0,51.3Z" fill="#20d4f8"/>
<ellipse cx="45.0" cy="76.0" rx="12.0" ry="5.0" fill="#2a80f0"/>
<path d="M44.4,20.5 C47.0,19.4 53.0,18.5 56.4,18.8 C59.8,19.1 63.3,20.2 65.0,22.2 C66.7,24.2 67.0,28.2 66.7,30.8 C66.4,33.4 64.9,35.6 63.2,37.6 C61.5,39.6 59.0,41.7 56.4,42.7 C53.8,43.7 50.5,43.9 47.9,43.6 C45.3,43.3 42.4,42.6 41.0,41.0 C39.6,39.4 39.3,36.8 39.3,34.2 C39.3,31.6 40.1,27.9 41.0,25.6 C41.9,23.3 41.8,21.6 44.4,20.5Z" fill="#40a8f0"/>
<ellipse cx="47.0" cy="39.5" rx="5.5" ry="2.8" fill="#1838e0"/>
<ellipse cx="85.5" cy="31.6" rx="3.5" ry="4.5" fill="#0aeefc"/>
<ellipse cx="28.5" cy="15.5" rx="2.8" ry="7.0" fill="#e8e820"/>
<ellipse cx="28.5" cy="15.0" rx="1.5" ry="4.0" fill="#f8a020"/>
<ellipse cx="50.4" cy="12.0" rx="4.0" ry="4.0" fill="#e8e820"/>
<ellipse cx="50.4" cy="12.0" rx="2.5" ry="2.5" fill="#f89020"/>
<ellipse cx="73.0" cy="28.0" rx="3.0" ry="8.5" fill="#e8e820"/>
<ellipse cx="73.0" cy="26.0" rx="1.8" ry="5.0" fill="#f8a020"/>
<ellipse cx="37.6" cy="28.2" rx="4.0" ry="2.5" fill="#f0c020"/>
<ellipse cx="63.2" cy="51.3" rx="2.5" ry="4.0" fill="#e8e820"/>
</g>
<polyline points="24.6,62.6 23.1,60.6 21.1,57.6 20.1,53.7 19.1,48.6 17.1,44.6 14.6,42.6 14.1,38.6 16.1,35.7 20.1,32.6 23.1,30.2 28.3,29.5 33.4,30.2 37.2,32.0 39.7,34.7 42.3,36.0 45.1,37.8 48.8,39.2 53.8,40.4 59.0,41.1 64.1,42.4 66.6,43.6 69.2,46.3 71.8,48.8 74.3,51.4 75.6,53.9 74.3,57.8 70.5,60.3 67.9,59.1 69.2,56.5 71.3,57.5 73.0,59.1 76.9,59.1 79.5,60.3 81.9,59.1 84.6,61.6 88.4,59.1 92.6,57.8" fill="none" stroke="#201a10" stroke-width="0.85" stroke-opacity="0.85"/>
<polyline points="0.0,65.6 6.1,65.2 10.2,65.2 14.1,65.6 18.1,66.6" fill="none" stroke="#201a10" stroke-width="0.85" stroke-opacity="0.85"/>
<polyline points="18.0,62.1 20.1,61.2 22.1,62.4 24.6,63.6 24.1,66.6 24.6,70.7 24.1,73.6 22.1,71.6 21.1,69.6 20.1,66.6 18.6,64.7 18.0,62.1" fill="none" stroke="#201a10" stroke-width="0.85" stroke-opacity="0.85"/>
<polyline points="38.5,34.5 41.0,34.1 43.4,36.2 42.6,39.0 40.2,38.2 38.5,36.2 38.5,34.5" fill="none" stroke="#201a10" stroke-width="0.85" stroke-opacity="0.85"/>
<g fill="#301808" fill-opacity="0.85"><circle cx="55.4" cy="38.2" r="0.60"/><circle cx="56.5" cy="36.0" r="0.63"/><circle cx="57.7" cy="35.9" r="0.85"/><circle cx="55.6" cy="36.4" r="0.65"/><circle cx="56.1" cy="38.8" r="0.49"/></g>
<line x1="0" y1="36.2" x2="92.6" y2="36.2" stroke="#f4e4dc" stroke-width="1"/>
<line x1="11.5" y1="79.7" x2="92.6" y2="-1.0" stroke="#f4e4dc" stroke-width="1"/>
<polygon points="36.0,11.1 45.8,11.1 45.8,18.0 88.5,18.0 88.5,41.0 85.5,41.0 85.5,53.0 77.8,53.0 77.8,63.2 56.4,63.2 56.4,53.0 38.5,53.0 38.5,40.2 26.5,40.2 26.5,55.6 12.8,55.6 12.8,22.2 36.0,22.2" fill="none" stroke="#2a1ee0" stroke-width="1.5"/>
<polygon points="17.0,67.5 27.4,67.5 27.4,77.0 17.0,77.0" fill="none" stroke="#2a1ee0" stroke-width="1.5"/>
</g>
<text x="54.7" y="47.0" fill="#fbf3ee" stroke="#fbf3ee" stroke-width="0.3" font-size="10.0" text-anchor="middle">H2</text>
<text x="3.6" y="33.8" fill="#fbf3ee" stroke="#fbf3ee" stroke-width="0.3" font-size="8.0" text-anchor="middle">A</text>
<text x="88.6" y="33.8" fill="#fbf3ee" stroke="#fbf3ee" stroke-width="0.3" font-size="8.0" text-anchor="middle">A'</text>
<text x="8.5" y="77.2" fill="#fbf3ee" stroke="#fbf3ee" stroke-width="0.3" font-size="8.0" text-anchor="middle">B</text>
<text x="87.2" y="13.8" fill="#fbf3ee" stroke="#fbf3ee" stroke-width="0.3" font-size="8.0" text-anchor="middle">B'</text>
<text x="88.4" y="77.8" fill="#111" stroke="#111" stroke-width="0.4" font-size="11.0" text-anchor="end">0.5 km</text>

</svg>
<rect x="37.80" y="423.40" width="92.40" height="79.50" fill="none" stroke="#262626" stroke-width="1"/>
<svg x="134.60" y="422.90" width="93.50" height="80.50" viewBox="0 0 92.6 79.7" preserveAspectRatio="none" overflow="hidden">
<defs><filter id="fp15" x="-50%" y="-50%" width="200%" height="200%"><feGaussianBlur stdDeviation="1.4"/></filter></defs>
<rect width="92.6" height="79.7" fill="#10d6f8"/>
<g transform="translate(-1.10 -0.40)">
<g filter="url(#fp15)">
<path d="M4.0,8.0 C5.8,5.7 11.0,5.7 14.0,6.0 C17.0,6.3 20.3,7.3 22.0,10.0 C23.7,12.7 24.0,18.0 24.0,22.0 C24.0,26.0 23.0,30.7 22.0,34.0 C21.0,37.3 20.0,40.3 18.0,42.0 C16.0,43.7 12.3,45.0 10.0,44.0 C7.7,43.0 5.2,40.0 4.0,36.0 C2.8,32.0 3.0,24.7 3.0,20.0 C3.0,15.3 2.2,10.3 4.0,8.0Z" fill="#2aa0f2"/>
<ellipse cx="68.0" cy="12.0" rx="9.0" ry="5.0" fill="#28a8f2"/>
<ellipse cx="30.0" cy="45.0" rx="8.0" ry="8.0" fill="#28b0f2"/>
<path d="M25.6,6.8 C27.1,4.6 31.1,4.3 34.2,4.0 C37.3,3.7 41.0,4.4 44.4,5.0 C47.8,5.6 52.6,5.5 54.7,7.5 C56.8,9.5 57.0,13.9 57.0,17.0 C57.0,20.1 55.1,23.1 55.0,26.0 C54.9,28.9 57.0,32.3 56.4,34.2 C55.8,36.1 53.6,37.2 51.3,37.6 C49.0,38.0 45.6,37.2 42.7,36.8 C39.9,36.4 36.8,36.5 34.2,35.0 C31.7,33.5 28.9,31.0 27.4,28.0 C25.9,25.0 25.3,20.5 25.0,17.0 C24.7,13.5 24.1,9.0 25.6,6.8Z" fill="#40e040"/>
<ellipse cx="29.0" cy="17.0" rx="2.5" ry="4.0" fill="#a8f020"/>
<ellipse cx="49.6" cy="13.7" rx="3.0" ry="3.5" fill="#e8f020"/>
<ellipse cx="71.5" cy="29.0" rx="6.5" ry="10.5" fill="#40e040"/>
<ellipse cx="71.8" cy="25.6" rx="2.5" ry="4.0" fill="#e8f020"/>
<ellipse cx="47.9" cy="53.0" rx="4.0" ry="5.5" fill="#40e040"/>
<ellipse cx="59.8" cy="48.7" rx="5.5" ry="6.5" fill="#40e040"/>
<path d="M0.0,58.0 C2.9,53.9 11.4,56.1 17.1,56.4 C22.8,56.7 28.5,58.9 34.2,59.8 C39.9,60.6 45.6,60.6 51.3,61.5 C57.0,62.4 61.3,64.1 68.4,65.0 C75.5,65.9 89.7,64.0 94.0,66.7 C98.3,69.4 109.7,78.6 94.0,81.0 C78.3,83.4 15.7,84.8 0.0,81.0 C-15.7,77.2 -2.9,62.1 0.0,58.0Z" fill="#3a78f2"/>
<ellipse cx="18.0" cy="63.0" rx="13.0" ry="4.5" fill="#7050f0"/>
<ellipse cx="38.0" cy="76.0" rx="14.0" ry="6.5" fill="#e040f0"/>
<ellipse cx="46.0" cy="40.0" rx="5.5" ry="2.2" fill="#a030d0"/>
</g>
<polyline points="24.6,62.6 23.1,60.6 21.1,57.6 20.1,53.7 19.1,48.6 17.1,44.6 14.6,42.6 14.1,38.6 16.1,35.7 20.1,32.6 23.1,30.2 28.3,29.5 33.4,30.2 37.2,32.0 39.7,34.7 42.3,36.0 45.1,37.8 48.8,39.2 53.8,40.4 59.0,41.1 64.1,42.4 66.6,43.6 69.2,46.3 71.8,48.8 74.3,51.4 75.6,53.9 74.3,57.8 70.5,60.3 67.9,59.1 69.2,56.5 71.3,57.5 73.0,59.1 76.9,59.1 79.5,60.3 81.9,59.1 84.6,61.6 88.4,59.1 92.6,57.8" fill="none" stroke="#201a10" stroke-width="0.85" stroke-opacity="0.85"/>
<polyline points="0.0,65.6 6.1,65.2 10.2,65.2 14.1,65.6 18.1,66.6" fill="none" stroke="#201a10" stroke-width="0.85" stroke-opacity="0.85"/>
<polyline points="18.0,62.1 20.1,61.2 22.1,62.4 24.6,63.6 24.1,66.6 24.6,70.7 24.1,73.6 22.1,71.6 21.1,69.6 20.1,66.6 18.6,64.7 18.0,62.1" fill="none" stroke="#201a10" stroke-width="0.85" stroke-opacity="0.85"/>
<polyline points="38.5,34.5 41.0,34.1 43.4,36.2 42.6,39.0 40.2,38.2 38.5,36.2 38.5,34.5" fill="none" stroke="#201a10" stroke-width="0.85" stroke-opacity="0.85"/>
<g fill="#301808" fill-opacity="0.85"><circle cx="54.1" cy="36.0" r="0.83"/><circle cx="55.4" cy="36.8" r="0.78"/><circle cx="54.6" cy="36.1" r="0.66"/><circle cx="55.6" cy="36.5" r="0.76"/><circle cx="57.8" cy="35.1" r="0.76"/><circle cx="55.2" cy="36.9" r="0.55"/></g>
<polygon points="35.0,14.0 45.8,14.0 45.8,18.0 88.9,18.0 88.9,37.6 86.3,37.6 86.3,59.0 77.8,59.0 77.8,63.2 53.8,63.2 53.8,48.7 37.6,48.7 37.6,41.0 27.4,41.0 27.4,55.6 13.7,55.6 13.7,25.6 23.0,25.6 23.0,20.2 35.0,20.2" fill="none" stroke="#2a1ee0" stroke-width="1.5"/>
<polygon points="17.0,64.0 26.5,64.0 26.5,77.0 17.0,77.0" fill="none" stroke="#2a1ee0" stroke-width="1.5"/>
</g>
<text x="48.7" y="38.5" fill="#fbf3ee" stroke="#fbf3ee" stroke-width="0.3" font-size="10.0" text-anchor="middle">H2</text>
<text x="77.4" y="52.1" fill="#fbf3ee" stroke="#fbf3ee" stroke-width="0.3" font-size="10.0" text-anchor="middle">H3</text>
<text x="88.4" y="77.8" fill="#111" stroke="#111" stroke-width="0.4" font-size="11.0" text-anchor="end">1.0 km</text>

</svg>
<rect x="135.10" y="423.40" width="92.50" height="79.50" fill="none" stroke="#262626" stroke-width="1"/>
<svg x="232.50" y="422.90" width="93.70" height="80.50" viewBox="0 0 92.6 79.7" preserveAspectRatio="none" overflow="hidden">
<defs><filter id="fp16" x="-50%" y="-50%" width="200%" height="200%"><feGaussianBlur stdDeviation="1.4"/></filter></defs>
<rect width="92.6" height="79.7" fill="#06e6fa"/>
<g transform="translate(-1.00 -0.40)">
<g filter="url(#fp16)">
<path d="M6.8,17.1 C8.8,14.8 14.3,14.6 17.1,15.4 C20.0,16.2 22.2,18.5 23.9,22.2 C25.6,25.9 26.8,32.2 27.4,37.6 C28.0,43.0 28.0,49.6 27.4,54.7 C26.8,59.8 25.6,65.3 23.9,68.4 C22.2,71.5 19.7,72.9 17.1,73.5 C14.5,74.1 10.5,74.1 8.5,71.8 C6.5,69.5 5.4,64.6 5.1,59.8 C4.8,54.9 6.8,47.8 6.8,42.7 C6.8,37.6 5.1,33.3 5.1,29.0 C5.1,24.7 4.8,19.4 6.8,17.1Z" fill="#3a70f0"/>
<ellipse cx="13.0" cy="28.0" rx="4.5" ry="7.0" fill="#8828e8"/>
<ellipse cx="19.0" cy="46.0" rx="5.5" ry="11.0" fill="#8828e8"/>
<ellipse cx="15.0" cy="63.0" rx="6.0" ry="5.5" fill="#8828e8"/>
<path d="M27.4,10.3 C30.5,8.1 37.9,6.8 42.7,6.8 C47.5,6.8 52.1,8.9 56.4,10.3 C60.7,11.7 63.8,14.0 68.4,15.4 C73.0,16.8 81.5,16.5 83.8,18.8 C86.1,21.1 84.0,25.6 82.0,29.0 C80.0,32.4 74.6,36.1 71.8,39.3 C69.0,42.4 66.4,45.0 65.0,47.9 C63.6,50.8 64.6,54.1 63.2,56.4 C61.8,58.7 59.0,60.9 56.4,61.5 C53.8,62.1 50.5,60.6 47.9,59.8 C45.3,58.9 42.6,58.0 41.0,56.4 C39.4,54.8 38.8,52.6 38.0,50.0 C37.2,47.4 37.3,43.8 36.5,41.0 C35.7,38.2 34.6,35.3 33.0,33.0 C31.4,30.7 28.5,29.2 27.0,27.0 C25.5,24.8 23.9,22.8 24.0,20.0 C24.1,17.2 24.3,12.5 27.4,10.3Z" fill="#44e040"/>
<path d="M41.0,17.1 C43.0,15.4 48.2,14.8 51.3,15.4 C54.4,16.0 56.9,18.8 59.8,20.5 C62.6,22.2 66.4,23.6 68.4,25.6 C70.4,27.6 72.4,30.2 71.8,32.5 C71.2,34.8 67.3,37.6 65.0,39.3 C62.7,41.0 59.8,40.7 58.1,42.7 C56.4,44.7 55.8,49.0 54.7,51.3 C53.6,53.6 53.0,55.8 51.3,56.4 C49.6,57.0 46.1,56.1 44.4,54.7 C42.7,53.3 41.9,50.5 41.0,47.9 C40.1,45.3 39.6,43.0 39.3,39.3 C39.0,35.6 39.0,29.3 39.3,25.6 C39.6,21.9 39.0,18.8 41.0,17.1Z" fill="#ecf020"/>
<ellipse cx="52.0" cy="33.0" rx="10.0" ry="6.0" fill="#f8a020"/>
<ellipse cx="44.4" cy="74.0" rx="14.0" ry="9.0" fill="#4a58f0"/>
<ellipse cx="44.4" cy="75.0" rx="10.0" ry="6.5" fill="#e040f0"/>
<ellipse cx="68.4" cy="54.7" rx="6.5" ry="8.0" fill="#4a58f0"/>
<ellipse cx="68.4" cy="54.7" rx="4.5" ry="6.5" fill="#8828e8"/>
</g>
<polyline points="24.6,62.6 23.1,60.6 21.1,57.6 20.1,53.7 19.1,48.6 17.1,44.6 14.6,42.6 14.1,38.6 16.1,35.7 20.1,32.6 23.1,30.2 28.3,29.5 33.4,30.2 37.2,32.0 39.7,34.7 42.3,36.0 45.1,37.8 48.8,39.2 53.8,40.4 59.0,41.1 64.1,42.4 66.6,43.6 69.2,46.3 71.8,48.8 74.3,51.4 75.6,53.9 74.3,57.8 70.5,60.3 67.9,59.1 69.2,56.5 71.3,57.5 73.0,59.1 76.9,59.1 79.5,60.3 81.9,59.1 84.6,61.6 88.4,59.1 92.6,57.8" fill="none" stroke="#201a10" stroke-width="0.85" stroke-opacity="0.85"/>
<polyline points="0.0,65.6 6.1,65.2 10.2,65.2 14.1,65.6 18.1,66.6" fill="none" stroke="#201a10" stroke-width="0.85" stroke-opacity="0.85"/>
<polyline points="18.0,62.1 20.1,61.2 22.1,62.4 24.6,63.6 24.1,66.6 24.6,70.7 24.1,73.6 22.1,71.6 21.1,69.6 20.1,66.6 18.6,64.7 18.0,62.1" fill="none" stroke="#201a10" stroke-width="0.85" stroke-opacity="0.85"/>
<polyline points="38.5,34.5 41.0,34.1 43.4,36.2 42.6,39.0 40.2,38.2 38.5,36.2 38.5,34.5" fill="none" stroke="#201a10" stroke-width="0.85" stroke-opacity="0.85"/>
<g fill="#301808" fill-opacity="0.85"><circle cx="56.3" cy="31.9" r="0.71"/><circle cx="53.5" cy="37.5" r="0.68"/><circle cx="48.6" cy="36.8" r="0.44"/><circle cx="69.9" cy="30.2" r="0.44"/><circle cx="57.9" cy="36.2" r="0.56"/><circle cx="53.9" cy="29.4" r="0.58"/><circle cx="55.2" cy="35.3" r="0.41"/><circle cx="45.6" cy="31.5" r="0.59"/><circle cx="57.7" cy="31.7" r="0.50"/><circle cx="38.9" cy="35.2" r="0.49"/><circle cx="51.4" cy="37.1" r="0.61"/><circle cx="52.3" cy="35.4" r="0.63"/><circle cx="46.0" cy="30.6" r="0.39"/><circle cx="53.0" cy="34.9" r="0.51"/><circle cx="67.9" cy="26.3" r="0.66"/><circle cx="47.7" cy="36.8" r="0.68"/><circle cx="49.7" cy="36.4" r="0.62"/><circle cx="49.3" cy="36.8" r="0.50"/><circle cx="56.2" cy="28.7" r="0.42"/><circle cx="61.6" cy="33.6" r="0.42"/><circle cx="50.9" cy="30.5" r="0.56"/><circle cx="48.2" cy="37.9" r="0.43"/><circle cx="45.6" cy="36.2" r="0.47"/><circle cx="71.5" cy="32.3" r="0.70"/><circle cx="66.0" cy="29.0" r="0.57"/><circle cx="56.2" cy="29.5" r="0.41"/><circle cx="65.0" cy="28.9" r="0.47"/><circle cx="49.9" cy="35.1" r="0.62"/><circle cx="58.4" cy="39.4" r="0.40"/><circle cx="44.4" cy="37.0" r="0.55"/><circle cx="54.0" cy="33.8" r="0.61"/><circle cx="57.3" cy="34.5" r="0.58"/><circle cx="52.4" cy="34.0" r="0.65"/><circle cx="51.6" cy="27.6" r="0.42"/><circle cx="37.6" cy="34.0" r="0.55"/><circle cx="52.6" cy="42.4" r="0.50"/><circle cx="49.4" cy="32.7" r="0.67"/><circle cx="50.0" cy="28.5" r="0.55"/><circle cx="49.4" cy="36.7" r="0.55"/><circle cx="62.4" cy="33.8" r="0.63"/><circle cx="56.2" cy="33.4" r="0.62"/><circle cx="51.1" cy="34.8" r="0.62"/><circle cx="58.6" cy="32.6" r="0.58"/><circle cx="45.7" cy="31.4" r="0.58"/><circle cx="63.2" cy="28.9" r="0.68"/><circle cx="55.4" cy="30.9" r="0.98"/><circle cx="56.8" cy="31.0" r="0.98"/><circle cx="58.4" cy="34.4" r="0.93"/><circle cx="55.4" cy="34.7" r="0.92"/><circle cx="58.2" cy="37.2" r="0.76"/><circle cx="58.9" cy="33.1" r="1.09"/><circle cx="55.0" cy="37.1" r="0.66"/><circle cx="54.7" cy="34.0" r="1.03"/><circle cx="56.2" cy="31.5" r="0.65"/><circle cx="55.2" cy="33.8" r="0.65"/><circle cx="56.1" cy="31.6" r="1.10"/><circle cx="57.4" cy="33.5" r="1.08"/><circle cx="49.4" cy="32.8" r="0.75"/><circle cx="53.2" cy="34.6" r="0.73"/><circle cx="55.1" cy="35.0" r="0.77"/><circle cx="54.1" cy="33.4" r="1.05"/><circle cx="57.0" cy="35.5" r="0.74"/><circle cx="59.2" cy="34.0" r="0.77"/><circle cx="59.5" cy="35.3" r="0.64"/><circle cx="58.7" cy="29.4" r="0.91"/><circle cx="57.4" cy="35.1" r="0.63"/><circle cx="59.0" cy="37.6" r="0.99"/></g>
<polygon points="28.2,18.0 63.2,18.0 63.2,15.4 85.5,15.4 85.5,36.7 83.0,36.7 83.0,51.3 76.0,51.3 76.0,62.4 52.0,62.4 52.0,57.3 35.0,57.3 35.0,69.2 27.4,69.2 27.4,71.8 4.3,71.8 4.3,65.0 7.7,65.0 7.7,53.0 12.8,53.0 12.8,33.3 18.8,33.3 18.8,23.0 28.2,23.0" fill="none" stroke="#2a1ee0" stroke-width="1.5"/>
</g>
<text x="53.4" y="27.4" fill="#5a4a20" stroke="#5a4a20" stroke-width="0.3" font-size="10.0" text-anchor="middle">L3</text>
<text x="29.0" y="49.6" fill="#fbf3ee" stroke="#fbf3ee" stroke-width="0.3" font-size="10.0" text-anchor="middle">H3</text>
<text x="88.4" y="77.8" fill="#111" stroke="#111" stroke-width="0.4" font-size="11.0" text-anchor="end">2.0 km</text>

</svg>
<rect x="233.00" y="423.40" width="92.70" height="79.50" fill="none" stroke="#262626" stroke-width="1"/>
<svg x="330.20" y="422.90" width="93.70" height="80.50" viewBox="0 0 92.6 79.7" preserveAspectRatio="none" overflow="hidden">
<defs><filter id="fp17" x="-50%" y="-50%" width="200%" height="200%"><feGaussianBlur stdDeviation="1.4"/></filter></defs>
<rect width="92.6" height="79.7" fill="#22ea28"/>
<g transform="translate(-0.70 -0.40)">
<g filter="url(#fp17)">
<path d="M25.6,12.0 C27.3,11.2 31.6,12.8 34.2,13.7 C36.8,14.5 38.1,16.8 41.0,17.1 C43.9,17.4 48.4,15.1 51.3,15.4 C54.1,15.7 56.7,17.1 58.1,18.8 C59.5,20.5 58.1,22.8 59.8,25.6 C61.5,28.5 66.7,32.8 68.4,35.9 C70.1,39.0 70.6,41.3 70.0,44.4 C69.4,47.5 66.7,52.1 65.0,54.7 C63.3,57.3 62.1,58.4 59.8,59.8 C57.5,61.2 54.1,62.6 51.3,63.2 C48.4,63.8 45.0,64.0 42.7,63.2 C40.4,62.4 39.0,60.1 37.6,58.1 C36.2,56.1 35.6,53.3 34.2,51.3 C32.8,49.3 30.7,48.2 29.0,46.2 C27.3,44.2 25.0,42.2 23.9,39.3 C22.8,36.4 22.2,32.4 22.2,29.0 C22.2,25.6 23.3,21.6 23.9,18.8 C24.5,16.0 23.9,12.8 25.6,12.0Z" fill="#e8f030"/>
<path d="M24.1,17.3 C25.7,15.8 30.9,16.7 33.4,17.3 C35.9,17.9 36.1,20.6 38.9,20.9 C41.7,21.2 46.9,18.8 50.0,19.1 C53.1,19.4 55.9,20.6 57.4,22.8 C58.9,25.0 58.0,29.3 59.2,32.1 C60.4,34.9 64.1,36.3 64.7,39.4 C65.3,42.5 64.1,47.4 62.9,50.5 C61.7,53.6 59.5,56.4 57.4,57.9 C55.2,59.4 52.2,60.0 50.0,59.7 C47.8,59.4 45.9,57.8 44.4,56.0 C42.9,54.2 42.3,50.9 40.8,48.7 C39.3,46.6 37.1,44.4 35.3,43.1 C33.4,41.9 31.2,42.4 29.7,41.2 C28.2,40.0 27.0,38.1 26.1,35.7 C25.2,33.3 24.4,29.7 24.1,26.6 C23.8,23.5 22.6,18.9 24.1,17.3Z" fill="#f8802e"/>
<ellipse cx="43.5" cy="31.6" rx="7.5" ry="5.5" fill="#e83820"/>
<ellipse cx="28.5" cy="20.5" rx="3.5" ry="3.0" fill="#30e830"/>
<ellipse cx="35.0" cy="48.0" rx="5.0" ry="5.0" fill="#30e830"/>
<path d="M13.7,25.6 C15.7,23.9 19.6,26.0 22.2,27.4 C24.8,28.8 27.0,31.4 29.0,34.2 C31.0,37.0 33.3,41.3 34.2,44.4 C35.1,47.5 35.3,51.0 34.2,53.0 C33.1,55.0 30.0,56.1 27.4,56.4 C24.8,56.7 21.1,56.1 18.8,54.7 C16.5,53.3 15.1,50.8 13.7,47.9 C12.3,45.0 10.3,41.3 10.3,37.6 C10.3,33.9 11.7,27.3 13.7,25.6Z" fill="#30d0f0"/>
<ellipse cx="20.0" cy="41.0" rx="7.0" ry="10.5" fill="#2890f0"/>
<ellipse cx="65.0" cy="24.0" rx="6.0" ry="8.0" fill="#30d0f0"/>
<ellipse cx="48.0" cy="71.8" rx="8.5" ry="5.5" fill="#30d0f0"/>
<ellipse cx="70.0" cy="56.4" rx="3.5" ry="5.0" fill="#30d0f0"/>
</g>
<polyline points="24.6,62.6 23.1,60.6 21.1,57.6 20.1,53.7 19.1,48.6 17.1,44.6 14.6,42.6 14.1,38.6 16.1,35.7 20.1,32.6 23.1,30.2 28.3,29.5 33.4,30.2 37.2,32.0 39.7,34.7 42.3,36.0 45.1,37.8 48.8,39.2 53.8,40.4 59.0,41.1 64.1,42.4 66.6,43.6 69.2,46.3 71.8,48.8 74.3,51.4 75.6,53.9 74.3,57.8 70.5,60.3 67.9,59.1 69.2,56.5 71.3,57.5 73.0,59.1 76.9,59.1 79.5,60.3 81.9,59.1 84.6,61.6 88.4,59.1 92.6,57.8" fill="none" stroke="#201a10" stroke-width="0.85" stroke-opacity="0.85"/>
<polyline points="0.0,65.6 6.1,65.2 10.2,65.2 14.1,65.6 18.1,66.6" fill="none" stroke="#201a10" stroke-width="0.85" stroke-opacity="0.85"/>
<polyline points="18.0,62.1 20.1,61.2 22.1,62.4 24.6,63.6 24.1,66.6 24.6,70.7 24.1,73.6 22.1,71.6 21.1,69.6 20.1,66.6 18.6,64.7 18.0,62.1" fill="none" stroke="#201a10" stroke-width="0.85" stroke-opacity="0.85"/>
<polyline points="38.5,34.5 41.0,34.1 43.4,36.2 42.6,39.0 40.2,38.2 38.5,36.2 38.5,34.5" fill="none" stroke="#201a10" stroke-width="0.85" stroke-opacity="0.85"/>
<g fill="#301808" fill-opacity="0.85"><circle cx="42.1" cy="28.8" r="0.62"/><circle cx="43.9" cy="28.1" r="0.57"/><circle cx="49.0" cy="28.9" r="0.37"/><circle cx="39.3" cy="23.8" r="0.53"/><circle cx="47.7" cy="33.7" r="0.61"/><circle cx="44.1" cy="30.1" r="0.55"/><circle cx="56.9" cy="26.9" r="0.61"/><circle cx="45.2" cy="25.9" r="0.53"/><circle cx="39.6" cy="29.9" r="0.50"/><circle cx="48.9" cy="34.2" r="0.36"/><circle cx="43.6" cy="30.3" r="0.64"/><circle cx="50.9" cy="30.7" r="0.63"/><circle cx="37.2" cy="23.6" r="0.47"/><circle cx="41.6" cy="29.1" r="0.46"/><circle cx="44.9" cy="29.0" r="0.65"/><circle cx="45.2" cy="23.5" r="0.51"/><circle cx="47.1" cy="30.0" r="0.64"/><circle cx="48.5" cy="25.0" r="0.57"/><circle cx="47.4" cy="27.8" r="0.46"/><circle cx="42.3" cy="29.6" r="0.51"/></g>
<polygon points="24.8,18.0 61.5,18.0 61.5,15.4 84.6,15.4 84.6,39.3 80.3,39.3 80.3,52.0 75.0,52.0 75.0,56.4 67.5,56.4 67.5,62.4 31.6,62.4 31.6,68.4 24.8,68.4 24.8,57.3 13.3,57.3 13.3,24.0 24.8,24.0" fill="none" stroke="#2a1ee0" stroke-width="1.5"/>
</g>
<text x="50.9" y="44.4" fill="#fbf3ee" stroke="#fbf3ee" stroke-width="0.3" font-size="10.0" text-anchor="middle">L3</text>
<text x="88.4" y="77.8" fill="#111" stroke="#111" stroke-width="0.4" font-size="11.0" text-anchor="end">3.0 km</text>

</svg>
<rect x="330.70" y="423.40" width="92.70" height="79.50" fill="none" stroke="#262626" stroke-width="1"/>
<svg x="429.10" y="422.90" width="93.30" height="80.50" viewBox="0 0 92.6 79.7" preserveAspectRatio="none" overflow="hidden">
<defs><filter id="fp18" x="-50%" y="-50%" width="200%" height="200%"><feGaussianBlur stdDeviation="1.8"/></filter></defs>
<rect width="92.6" height="79.7" fill="#f8882c"/>
<g transform="translate(-1.60 -0.40)">
<g filter="url(#fp18)">
<ellipse cx="18.0" cy="70.0" rx="18.0" ry="10.0" fill="#f8b050"/>
<path d="M27.4,10.3 C30.2,7.2 37.9,7.1 42.7,6.8 C47.5,6.5 53.3,6.8 56.4,8.5 C59.5,10.2 58.9,14.8 61.5,17.1 C64.1,19.4 69.2,19.3 71.8,22.2 C74.4,25.1 76.6,29.9 76.9,34.2 C77.2,38.5 75.5,43.6 73.5,47.9 C71.5,52.2 68.7,56.9 65.0,59.8 C61.3,62.6 56.4,64.1 51.3,65.0 C46.2,65.9 38.5,66.4 34.2,65.0 C29.9,63.6 27.3,60.1 25.6,56.4 C23.9,52.7 23.9,47.8 23.9,42.7 C23.9,37.6 25.0,31.0 25.6,25.6 C26.2,20.2 24.5,13.4 27.4,10.3Z" fill="#f26638"/>
<ellipse cx="40.0" cy="20.0" rx="11.0" ry="10.0" fill="#ea4830"/>
<ellipse cx="65.0" cy="19.0" rx="6.0" ry="5.0" fill="#f8c070"/>
<ellipse cx="38.0" cy="50.0" rx="8.0" ry="8.0" fill="#f8a850"/>
<ellipse cx="36.0" cy="51.0" rx="4.0" ry="4.0" fill="#d8e840"/>
<ellipse cx="66.0" cy="74.0" rx="7.0" ry="10.0" fill="#f0e040"/>
<ellipse cx="66.0" cy="76.0" rx="4.5" ry="7.0" fill="#b0e828"/>
<ellipse cx="10.0" cy="79.0" rx="7.0" ry="3.5" fill="#70e020"/>
<ellipse cx="10.0" cy="30.0" rx="10.0" ry="20.0" fill="#f89a40"/>
</g>
<polyline points="24.6,62.6 23.1,60.6 21.1,57.6 20.1,53.7 19.1,48.6 17.1,44.6 14.6,42.6 14.1,38.6 16.1,35.7 20.1,32.6 23.1,30.2 28.3,29.5 33.4,30.2 37.2,32.0 39.7,34.7 42.3,36.0 45.1,37.8 48.8,39.2 53.8,40.4 59.0,41.1 64.1,42.4 66.6,43.6 69.2,46.3 71.8,48.8 74.3,51.4 75.6,53.9 74.3,57.8 70.5,60.3 67.9,59.1 69.2,56.5 71.3,57.5 73.0,59.1 76.9,59.1 79.5,60.3 81.9,59.1 84.6,61.6 88.4,59.1 92.6,57.8" fill="none" stroke="#201a10" stroke-width="0.85" stroke-opacity="0.85"/>
<polyline points="0.0,65.6 6.1,65.2 10.2,65.2 14.1,65.6 18.1,66.6" fill="none" stroke="#201a10" stroke-width="0.85" stroke-opacity="0.85"/>
<polyline points="18.0,62.1 20.1,61.2 22.1,62.4 24.6,63.6 24.1,66.6 24.6,70.7 24.1,73.6 22.1,71.6 21.1,69.6 20.1,66.6 18.6,64.7 18.0,62.1" fill="none" stroke="#201a10" stroke-width="0.85" stroke-opacity="0.85"/>
<polyline points="38.5,34.5 41.0,34.1 43.4,36.2 42.6,39.0 40.2,38.2 38.5,36.2 38.5,34.5" fill="none" stroke="#201a10" stroke-width="0.85" stroke-opacity="0.85"/>
<g fill="#301808" fill-opacity="0.85"></g>
<polygon points="47.9,24.8 75.0,24.8 75.0,54.0 64.0,54.0 64.0,61.2 24.8,61.2 24.8,57.3 14.5,57.3 14.5,31.1 25.3,31.1 25.3,33.3 47.9,33.3" fill="none" stroke="#2a1ee0" stroke-width="1.5"/>
</g>
<text x="88.4" y="77.8" fill="#111" stroke="#111" stroke-width="0.4" font-size="11.0" text-anchor="end">4.0 km</text>

</svg>
<rect x="429.60" y="423.40" width="92.30" height="79.50" fill="none" stroke="#262626" stroke-width="1"/>
<line x1="32.0" y1="9.4" x2="37.5" y2="9.4" stroke="#333" stroke-width="1.0"/>
<line x1="32.0" y1="57.9" x2="37.5" y2="57.9" stroke="#333" stroke-width="1.0"/>
<line x1="32.0" y1="106.5" x2="37.5" y2="106.5" stroke="#333" stroke-width="1.0"/>
<line x1="37.5" y1="106.5" x2="37.5" y2="113.5" stroke="#333" stroke-width="1.0"/>
<line x1="75.3" y1="106.5" x2="75.3" y2="113.5" stroke="#333" stroke-width="1.0"/>
<line x1="113.0" y1="106.5" x2="113.0" y2="113.5" stroke="#333" stroke-width="1.0"/>
<line x1="150.8" y1="106.5" x2="150.8" y2="113.5" stroke="#333" stroke-width="1.0"/>
<line x1="156.7" y1="9.4" x2="162.2" y2="9.4" stroke="#333" stroke-width="1.0"/>
<line x1="156.7" y1="57.9" x2="162.2" y2="57.9" stroke="#333" stroke-width="1.0"/>
<line x1="156.7" y1="106.5" x2="162.2" y2="106.5" stroke="#333" stroke-width="1.0"/>
<line x1="162.2" y1="106.5" x2="162.2" y2="113.5" stroke="#333" stroke-width="1.0"/>
<line x1="199.8" y1="106.5" x2="199.8" y2="113.5" stroke="#333" stroke-width="1.0"/>
<line x1="237.5" y1="106.5" x2="237.5" y2="113.5" stroke="#333" stroke-width="1.0"/>
<line x1="275.1" y1="106.5" x2="275.1" y2="113.5" stroke="#333" stroke-width="1.0"/>
<line x1="281.3" y1="9.4" x2="286.8" y2="9.4" stroke="#333" stroke-width="1.0"/>
<line x1="281.3" y1="57.9" x2="286.8" y2="57.9" stroke="#333" stroke-width="1.0"/>
<line x1="281.3" y1="106.5" x2="286.8" y2="106.5" stroke="#333" stroke-width="1.0"/>
<line x1="286.8" y1="106.5" x2="286.8" y2="113.5" stroke="#333" stroke-width="1.0"/>
<line x1="324.3" y1="106.5" x2="324.3" y2="113.5" stroke="#333" stroke-width="1.0"/>
<line x1="361.7" y1="106.5" x2="361.7" y2="113.5" stroke="#333" stroke-width="1.0"/>
<line x1="399.2" y1="106.5" x2="399.2" y2="113.5" stroke="#333" stroke-width="1.0"/>
<line x1="404.9" y1="9.4" x2="410.4" y2="9.4" stroke="#333" stroke-width="1.0"/>
<line x1="404.9" y1="57.9" x2="410.4" y2="57.9" stroke="#333" stroke-width="1.0"/>
<line x1="404.9" y1="106.5" x2="410.4" y2="106.5" stroke="#333" stroke-width="1.0"/>
<line x1="410.4" y1="106.5" x2="410.4" y2="113.5" stroke="#333" stroke-width="1.0"/>
<line x1="447.7" y1="106.5" x2="447.7" y2="113.5" stroke="#333" stroke-width="1.0"/>
<line x1="485.1" y1="106.5" x2="485.1" y2="113.5" stroke="#333" stroke-width="1.0"/>
<line x1="522.4" y1="106.5" x2="522.4" y2="113.5" stroke="#333" stroke-width="1.0"/>
<line x1="32.0" y1="120.1" x2="37.5" y2="120.1" stroke="#333" stroke-width="1.0"/>
<line x1="32.0" y1="168.8" x2="37.5" y2="168.8" stroke="#333" stroke-width="1.0"/>
<line x1="32.0" y1="217.4" x2="37.5" y2="217.4" stroke="#333" stroke-width="1.0"/>
<line x1="37.5" y1="217.4" x2="37.5" y2="224.4" stroke="#333" stroke-width="1.0"/>
<line x1="75.3" y1="217.4" x2="75.3" y2="224.4" stroke="#333" stroke-width="1.0"/>
<line x1="113.0" y1="217.4" x2="113.0" y2="224.4" stroke="#333" stroke-width="1.0"/>
<line x1="150.8" y1="217.4" x2="150.8" y2="224.4" stroke="#333" stroke-width="1.0"/>
<line x1="156.7" y1="120.1" x2="162.2" y2="120.1" stroke="#333" stroke-width="1.0"/>
<line x1="156.7" y1="168.8" x2="162.2" y2="168.8" stroke="#333" stroke-width="1.0"/>
<line x1="156.7" y1="217.4" x2="162.2" y2="217.4" stroke="#333" stroke-width="1.0"/>
<line x1="162.2" y1="217.4" x2="162.2" y2="224.4" stroke="#333" stroke-width="1.0"/>
<line x1="199.8" y1="217.4" x2="199.8" y2="224.4" stroke="#333" stroke-width="1.0"/>
<line x1="237.5" y1="217.4" x2="237.5" y2="224.4" stroke="#333" stroke-width="1.0"/>
<line x1="275.1" y1="217.4" x2="275.1" y2="224.4" stroke="#333" stroke-width="1.0"/>
<line x1="281.3" y1="120.1" x2="286.8" y2="120.1" stroke="#333" stroke-width="1.0"/>
<line x1="281.3" y1="168.8" x2="286.8" y2="168.8" stroke="#333" stroke-width="1.0"/>
<line x1="281.3" y1="217.4" x2="286.8" y2="217.4" stroke="#333" stroke-width="1.0"/>
<line x1="286.8" y1="217.4" x2="286.8" y2="224.4" stroke="#333" stroke-width="1.0"/>
<line x1="324.3" y1="217.4" x2="324.3" y2="224.4" stroke="#333" stroke-width="1.0"/>
<line x1="361.7" y1="217.4" x2="361.7" y2="224.4" stroke="#333" stroke-width="1.0"/>
<line x1="399.2" y1="217.4" x2="399.2" y2="224.4" stroke="#333" stroke-width="1.0"/>
<line x1="404.9" y1="120.1" x2="410.4" y2="120.1" stroke="#333" stroke-width="1.0"/>
<line x1="404.9" y1="168.8" x2="410.4" y2="168.8" stroke="#333" stroke-width="1.0"/>
<line x1="404.9" y1="217.4" x2="410.4" y2="217.4" stroke="#333" stroke-width="1.0"/>
<line x1="410.4" y1="217.4" x2="410.4" y2="224.4" stroke="#333" stroke-width="1.0"/>
<line x1="447.7" y1="217.4" x2="447.7" y2="224.4" stroke="#333" stroke-width="1.0"/>
<line x1="485.1" y1="217.4" x2="485.1" y2="224.4" stroke="#333" stroke-width="1.0"/>
<line x1="522.4" y1="217.4" x2="522.4" y2="224.4" stroke="#333" stroke-width="1.0"/>
<line x1="32.3" y1="281.7" x2="37.8" y2="281.7" stroke="#333" stroke-width="1.0"/>
<line x1="32.3" y1="321.6" x2="37.8" y2="321.6" stroke="#333" stroke-width="1.0"/>
<line x1="32.3" y1="361.6" x2="37.8" y2="361.6" stroke="#333" stroke-width="1.0"/>
<line x1="37.8" y1="361.6" x2="37.8" y2="367.1" stroke="#333" stroke-width="1.0"/>
<line x1="68.6" y1="361.6" x2="68.6" y2="367.1" stroke="#333" stroke-width="1.0"/>
<line x1="99.4" y1="361.6" x2="99.4" y2="367.1" stroke="#333" stroke-width="1.0"/>
<line x1="130.2" y1="361.6" x2="130.2" y2="367.1" stroke="#333" stroke-width="1.0"/>
<line x1="129.6" y1="281.7" x2="135.1" y2="281.7" stroke="#333" stroke-width="1.0"/>
<line x1="129.6" y1="321.6" x2="135.1" y2="321.6" stroke="#333" stroke-width="1.0"/>
<line x1="129.6" y1="361.6" x2="135.1" y2="361.6" stroke="#333" stroke-width="1.0"/>
<line x1="135.1" y1="361.6" x2="135.1" y2="367.1" stroke="#333" stroke-width="1.0"/>
<line x1="165.9" y1="361.6" x2="165.9" y2="367.1" stroke="#333" stroke-width="1.0"/>
<line x1="196.8" y1="361.6" x2="196.8" y2="367.1" stroke="#333" stroke-width="1.0"/>
<line x1="227.6" y1="361.6" x2="227.6" y2="367.1" stroke="#333" stroke-width="1.0"/>
<line x1="227.5" y1="281.7" x2="233.0" y2="281.7" stroke="#333" stroke-width="1.0"/>
<line x1="227.5" y1="321.6" x2="233.0" y2="321.6" stroke="#333" stroke-width="1.0"/>
<line x1="227.5" y1="361.6" x2="233.0" y2="361.6" stroke="#333" stroke-width="1.0"/>
<line x1="233.0" y1="361.6" x2="233.0" y2="367.1" stroke="#333" stroke-width="1.0"/>
<line x1="263.9" y1="361.6" x2="263.9" y2="367.1" stroke="#333" stroke-width="1.0"/>
<line x1="294.8" y1="361.6" x2="294.8" y2="367.1" stroke="#333" stroke-width="1.0"/>
<line x1="325.7" y1="361.6" x2="325.7" y2="367.1" stroke="#333" stroke-width="1.0"/>
<line x1="325.2" y1="281.7" x2="330.7" y2="281.7" stroke="#333" stroke-width="1.0"/>
<line x1="325.2" y1="321.6" x2="330.7" y2="321.6" stroke="#333" stroke-width="1.0"/>
<line x1="325.2" y1="361.6" x2="330.7" y2="361.6" stroke="#333" stroke-width="1.0"/>
<line x1="330.7" y1="361.6" x2="330.7" y2="367.1" stroke="#333" stroke-width="1.0"/>
<line x1="361.6" y1="361.6" x2="361.6" y2="367.1" stroke="#333" stroke-width="1.0"/>
<line x1="392.5" y1="361.6" x2="392.5" y2="367.1" stroke="#333" stroke-width="1.0"/>
<line x1="423.4" y1="361.6" x2="423.4" y2="367.1" stroke="#333" stroke-width="1.0"/>
<line x1="424.1" y1="281.7" x2="429.6" y2="281.7" stroke="#333" stroke-width="1.0"/>
<line x1="424.1" y1="321.6" x2="429.6" y2="321.6" stroke="#333" stroke-width="1.0"/>
<line x1="424.1" y1="361.6" x2="429.6" y2="361.6" stroke="#333" stroke-width="1.0"/>
<line x1="429.6" y1="361.6" x2="429.6" y2="367.1" stroke="#333" stroke-width="1.0"/>
<line x1="460.4" y1="361.6" x2="460.4" y2="367.1" stroke="#333" stroke-width="1.0"/>
<line x1="491.1" y1="361.6" x2="491.1" y2="367.1" stroke="#333" stroke-width="1.0"/>
<line x1="521.9" y1="361.6" x2="521.9" y2="367.1" stroke="#333" stroke-width="1.0"/>
<line x1="32.3" y1="423.4" x2="37.8" y2="423.4" stroke="#333" stroke-width="1.0"/>
<line x1="32.3" y1="463.1" x2="37.8" y2="463.1" stroke="#333" stroke-width="1.0"/>
<line x1="32.3" y1="502.9" x2="37.8" y2="502.9" stroke="#333" stroke-width="1.0"/>
<line x1="37.8" y1="502.9" x2="37.8" y2="508.4" stroke="#333" stroke-width="1.0"/>
<line x1="68.6" y1="502.9" x2="68.6" y2="508.4" stroke="#333" stroke-width="1.0"/>
<line x1="99.4" y1="502.9" x2="99.4" y2="508.4" stroke="#333" stroke-width="1.0"/>
<line x1="130.2" y1="502.9" x2="130.2" y2="508.4" stroke="#333" stroke-width="1.0"/>
<line x1="129.6" y1="423.4" x2="135.1" y2="423.4" stroke="#333" stroke-width="1.0"/>
<line x1="129.6" y1="463.1" x2="135.1" y2="463.1" stroke="#333" stroke-width="1.0"/>
<line x1="129.6" y1="502.9" x2="135.1" y2="502.9" stroke="#333" stroke-width="1.0"/>
<line x1="135.1" y1="502.9" x2="135.1" y2="508.4" stroke="#333" stroke-width="1.0"/>
<line x1="165.9" y1="502.9" x2="165.9" y2="508.4" stroke="#333" stroke-width="1.0"/>
<line x1="196.8" y1="502.9" x2="196.8" y2="508.4" stroke="#333" stroke-width="1.0"/>
<line x1="227.6" y1="502.9" x2="227.6" y2="508.4" stroke="#333" stroke-width="1.0"/>
<line x1="227.5" y1="423.4" x2="233.0" y2="423.4" stroke="#333" stroke-width="1.0"/>
<line x1="227.5" y1="463.1" x2="233.0" y2="463.1" stroke="#333" stroke-width="1.0"/>
<line x1="227.5" y1="502.9" x2="233.0" y2="502.9" stroke="#333" stroke-width="1.0"/>
<line x1="233.0" y1="502.9" x2="233.0" y2="508.4" stroke="#333" stroke-width="1.0"/>
<line x1="263.9" y1="502.9" x2="263.9" y2="508.4" stroke="#333" stroke-width="1.0"/>
<line x1="294.8" y1="502.9" x2="294.8" y2="508.4" stroke="#333" stroke-width="1.0"/>
<line x1="325.7" y1="502.9" x2="325.7" y2="508.4" stroke="#333" stroke-width="1.0"/>
<line x1="325.2" y1="423.4" x2="330.7" y2="423.4" stroke="#333" stroke-width="1.0"/>
<line x1="325.2" y1="463.1" x2="330.7" y2="463.1" stroke="#333" stroke-width="1.0"/>
<line x1="325.2" y1="502.9" x2="330.7" y2="502.9" stroke="#333" stroke-width="1.0"/>
<line x1="330.7" y1="502.9" x2="330.7" y2="508.4" stroke="#333" stroke-width="1.0"/>
<line x1="361.6" y1="502.9" x2="361.6" y2="508.4" stroke="#333" stroke-width="1.0"/>
<line x1="392.5" y1="502.9" x2="392.5" y2="508.4" stroke="#333" stroke-width="1.0"/>
<line x1="423.4" y1="502.9" x2="423.4" y2="508.4" stroke="#333" stroke-width="1.0"/>
<line x1="424.1" y1="423.4" x2="429.6" y2="423.4" stroke="#333" stroke-width="1.0"/>
<line x1="424.1" y1="463.1" x2="429.6" y2="463.1" stroke="#333" stroke-width="1.0"/>
<line x1="424.1" y1="502.9" x2="429.6" y2="502.9" stroke="#333" stroke-width="1.0"/>
<line x1="429.6" y1="502.9" x2="429.6" y2="508.4" stroke="#333" stroke-width="1.0"/>
<line x1="460.4" y1="502.9" x2="460.4" y2="508.4" stroke="#333" stroke-width="1.0"/>
<line x1="491.1" y1="502.9" x2="491.1" y2="508.4" stroke="#333" stroke-width="1.0"/>
<line x1="521.9" y1="502.9" x2="521.9" y2="508.4" stroke="#333" stroke-width="1.0"/>
<text x="45.8" y="236.0" font-size="10.4" text-anchor="middle" fill="#111" stroke="#111" stroke-width="0.25">14&#176;.05</text>
<text x="109.8" y="236.0" font-size="10.4" text-anchor="middle" fill="#111" stroke="#111" stroke-width="0.25">14&#176;.15</text>
<text x="170.3" y="236.0" font-size="10.4" text-anchor="middle" fill="#111" stroke="#111" stroke-width="0.25">14&#176;.05</text>
<text x="234.3" y="236.0" font-size="10.4" text-anchor="middle" fill="#111" stroke="#111" stroke-width="0.25">14&#176;.15</text>
<text x="294.9" y="236.0" font-size="10.4" text-anchor="middle" fill="#111" stroke="#111" stroke-width="0.25">14&#176;.05</text>
<text x="358.9" y="236.0" font-size="10.4" text-anchor="middle" fill="#111" stroke="#111" stroke-width="0.25">14&#176;.15</text>
<text x="418.6" y="236.0" font-size="10.4" text-anchor="middle" fill="#111" stroke="#111" stroke-width="0.25">14&#176;.05</text>
<text x="482.6" y="236.0" font-size="10.4" text-anchor="middle" fill="#111" stroke="#111" stroke-width="0.25">14&#176;.15</text>
<text x="43.5" y="378.6" font-size="9.3" text-anchor="middle" fill="#111" stroke="#111" stroke-width="0.25">14&#176;.05</text>
<text x="93.5" y="378.6" font-size="9.3" text-anchor="middle" fill="#111" stroke="#111" stroke-width="0.25">14&#176;.15</text>
<text x="140.9" y="378.6" font-size="9.3" text-anchor="middle" fill="#111" stroke="#111" stroke-width="0.25">14&#176;.05</text>
<text x="190.9" y="378.6" font-size="9.3" text-anchor="middle" fill="#111" stroke="#111" stroke-width="0.25">14&#176;.15</text>
<text x="238.7" y="378.6" font-size="9.3" text-anchor="middle" fill="#111" stroke="#111" stroke-width="0.25">14&#176;.05</text>
<text x="288.7" y="378.6" font-size="9.3" text-anchor="middle" fill="#111" stroke="#111" stroke-width="0.25">14&#176;.15</text>
<text x="336.5" y="378.6" font-size="9.3" text-anchor="middle" fill="#111" stroke="#111" stroke-width="0.25">14&#176;.05</text>
<text x="386.5" y="378.6" font-size="9.3" text-anchor="middle" fill="#111" stroke="#111" stroke-width="0.25">14&#176;.15</text>
<text x="435.2" y="378.6" font-size="9.3" text-anchor="middle" fill="#111" stroke="#111" stroke-width="0.25">14&#176;.05</text>
<text x="485.2" y="378.6" font-size="9.3" text-anchor="middle" fill="#111" stroke="#111" stroke-width="0.25">14&#176;.15</text>
<text x="43.5" y="519.2" font-size="9.3" text-anchor="middle" fill="#111" stroke="#111" stroke-width="0.25">14&#176;.05</text>
<text x="93.5" y="519.2" font-size="9.3" text-anchor="middle" fill="#111" stroke="#111" stroke-width="0.25">14&#176;.15</text>
<text x="140.9" y="519.2" font-size="9.3" text-anchor="middle" fill="#111" stroke="#111" stroke-width="0.25">14&#176;.05</text>
<text x="190.9" y="519.2" font-size="9.3" text-anchor="middle" fill="#111" stroke="#111" stroke-width="0.25">14&#176;.15</text>
<text x="238.7" y="519.2" font-size="9.3" text-anchor="middle" fill="#111" stroke="#111" stroke-width="0.25">14&#176;.05</text>
<text x="288.7" y="519.2" font-size="9.3" text-anchor="middle" fill="#111" stroke="#111" stroke-width="0.25">14&#176;.15</text>
<text x="336.5" y="519.2" font-size="9.3" text-anchor="middle" fill="#111" stroke="#111" stroke-width="0.25">14&#176;.05</text>
<text x="386.5" y="519.2" font-size="9.3" text-anchor="middle" fill="#111" stroke="#111" stroke-width="0.25">14&#176;.15</text>
<text x="435.2" y="519.2" font-size="9.3" text-anchor="middle" fill="#111" stroke="#111" stroke-width="0.25">14&#176;.05</text>
<text x="485.2" y="519.2" font-size="9.3" text-anchor="middle" fill="#111" stroke="#111" stroke-width="0.25">14&#176;.15</text>
<text x="473.0" y="248.3" font-size="10.5" text-anchor="middle" fill="#111" stroke="#111" stroke-width="0.25">Longitude (degrees)</text>
<text x="473.0" y="391.0" font-size="10.5" text-anchor="middle" fill="#111" stroke="#111" stroke-width="0.25">Longitude (degrees)</text>
<text x="473.0" y="531.5" font-size="10.5" text-anchor="middle" fill="#111" stroke="#111" stroke-width="0.25">Longitude (degrees)</text>
<text x="13.2" y="59.0" font-size="10.4" text-anchor="middle" fill="#111" stroke="#111" stroke-width="0.25" transform="rotate(-90 13.2 59.0)">Latitude (degrees)</text>
<text x="13.2" y="169.5" font-size="10.4" text-anchor="middle" fill="#111" stroke="#111" stroke-width="0.25" transform="rotate(-90 13.2 169.5)">Latitude (degrees)</text>
<text x="13.2" y="322.7" font-size="10.4" text-anchor="middle" fill="#111" stroke="#111" stroke-width="0.25" transform="rotate(-90 13.2 322.7)">Latitude (degrees)</text>
<text x="13.2" y="465.6" font-size="10.4" text-anchor="middle" fill="#111" stroke="#111" stroke-width="0.25" transform="rotate(-90 13.2 465.6)">Latitude (degrees)</text>
<text x="28.6" y="18.0" font-size="10.4" text-anchor="middle" fill="#111" stroke="#111" stroke-width="0.25" transform="rotate(-90 28.6 18.0)">40&#176;.87</text>
<text x="28.6" y="94.0" font-size="10.4" text-anchor="middle" fill="#111" stroke="#111" stroke-width="0.25" transform="rotate(-90 28.6 94.0)">40&#176;.77</text>
<text x="28.6" y="129.5" font-size="10.4" text-anchor="middle" fill="#111" stroke="#111" stroke-width="0.25" transform="rotate(-90 28.6 129.5)">40&#176;.87</text>
<text x="28.6" y="211.6" font-size="10.4" text-anchor="middle" fill="#111" stroke="#111" stroke-width="0.25" transform="rotate(-90 28.6 211.6)">40&#176;.77</text>
<text x="28.6" y="284.8" font-size="10.4" text-anchor="middle" fill="#111" stroke="#111" stroke-width="0.25" transform="rotate(-90 28.6 284.8)">40&#176;.87</text>
<text x="28.6" y="358.0" font-size="10.4" text-anchor="middle" fill="#111" stroke="#111" stroke-width="0.25" transform="rotate(-90 28.6 358.0)">40&#176;.77</text>
<text x="28.6" y="426.5" font-size="10.4" text-anchor="middle" fill="#111" stroke="#111" stroke-width="0.25" transform="rotate(-90 28.6 426.5)">40&#176;.87</text>
<text x="28.6" y="497.0" font-size="10.4" text-anchor="middle" fill="#111" stroke="#111" stroke-width="0.25" transform="rotate(-90 28.6 497.0)">40&#176;.77</text>
<text x="536.9" y="24.3" font-size="17.6" text-anchor="middle" fill="#111" stroke="#111" stroke-width="0.25">(a)</text>
<text x="536.3" y="295.9" font-size="17.6" text-anchor="middle" fill="#111" stroke="#111" stroke-width="0.25">(b)</text>
<text x="535.4" y="438.8" font-size="17.6" text-anchor="middle" fill="#111" stroke="#111" stroke-width="0.25">(c)</text>
<defs><linearGradient id="cg1" x1="0" x2="1" y1="0" y2="0"><stop offset="0" stop-color="#5a0606"/><stop offset="1" stop-color="#9a0a0a"/></linearGradient></defs><rect x="196.00" y="249.5" width="16.70" height="10.0" fill="url(#cg1)"/><defs><linearGradient id="cg2" x1="0" x2="1" y1="0" y2="0"><stop offset="0" stop-color="#e80606"/><stop offset="1" stop-color="#fc1010"/></linearGradient></defs><rect x="212.40" y="249.5" width="16.70" height="10.0" fill="url(#cg2)"/><rect x="228.80" y="249.5" width="16.70" height="10.0" fill="#fa4a0a"/><rect x="245.20" y="249.5" width="16.70" height="10.0" fill="#fc9218"/><rect x="261.60" y="249.5" width="16.70" height="10.0" fill="#fffce0"/><rect x="278.00" y="249.5" width="16.70" height="10.0" fill="#fcf800"/><rect x="294.40" y="249.5" width="16.70" height="10.0" fill="#10e810"/><rect x="310.80" y="249.5" width="16.70" height="10.0" fill="#0ca040"/><rect x="327.20" y="249.5" width="16.70" height="10.0" fill="#10b4f0"/><rect x="343.60" y="249.5" width="16.70" height="10.0" fill="#1038f0"/><rect x="196.0" y="249.5" width="164.0" height="10.0" fill="none" stroke="#333" stroke-width="0.6"/>
<line x1="209.3" y1="259.5" x2="209.3" y2="263.2" stroke="#333" stroke-width="0.8"/>
<text x="209.3" y="272.8" font-size="9.3" text-anchor="middle" fill="#111" stroke="#111" stroke-width="0.10">2.0</text>
<line x1="242.2" y1="259.5" x2="242.2" y2="263.2" stroke="#333" stroke-width="0.8"/>
<text x="242.2" y="272.8" font-size="9.3" text-anchor="middle" fill="#111" stroke="#111" stroke-width="0.10">3.0</text>
<line x1="274.8" y1="259.5" x2="274.8" y2="263.2" stroke="#333" stroke-width="0.8"/>
<text x="274.8" y="272.8" font-size="9.3" text-anchor="middle" fill="#111" stroke="#111" stroke-width="0.10">4.0</text>
<line x1="307.3" y1="259.5" x2="307.3" y2="263.2" stroke="#333" stroke-width="0.8"/>
<text x="307.3" y="272.8" font-size="9.3" text-anchor="middle" fill="#111" stroke="#111" stroke-width="0.10">5.0</text>
<line x1="339.8" y1="259.5" x2="339.8" y2="263.2" stroke="#333" stroke-width="0.8"/>
<text x="339.8" y="272.8" font-size="9.3" text-anchor="middle" fill="#111" stroke="#111" stroke-width="0.10">6.0</text>
<text x="190.2" y="258.3" font-size="10.0" text-anchor="end" fill="#111" stroke="#111" stroke-width="0.15">Vp (km/s)</text>
<defs><linearGradient id="cg3" x1="0" x2="1" y1="0" y2="0"><stop offset="0" stop-color="#5a1a14"/><stop offset="1" stop-color="#7a2018"/></linearGradient></defs><rect x="196.40" y="389.0" width="11.99" height="11.0" fill="url(#cg3)"/><rect x="208.09" y="389.0" width="11.99" height="11.0" fill="#f80808"/><rect x="219.77" y="389.0" width="11.99" height="11.0" fill="#fa6008"/><rect x="231.46" y="389.0" width="11.99" height="11.0" fill="#fca010"/><rect x="243.14" y="389.0" width="11.99" height="11.0" fill="#fffcb0"/><rect x="254.83" y="389.0" width="11.99" height="11.0" fill="#fcf000"/><rect x="266.51" y="389.0" width="11.99" height="11.0" fill="#c0f060"/><rect x="278.20" y="389.0" width="11.99" height="11.0" fill="#08f008"/><rect x="289.89" y="389.0" width="11.99" height="11.0" fill="#08c830"/><rect x="301.57" y="389.0" width="11.99" height="11.0" fill="#08904a"/><rect x="313.26" y="389.0" width="11.99" height="11.0" fill="#08d0f8"/><rect x="324.94" y="389.0" width="11.99" height="11.0" fill="#1090f8"/><rect x="336.63" y="389.0" width="11.99" height="11.0" fill="#1020f0"/><rect x="348.31" y="389.0" width="11.99" height="11.0" fill="#8010d8"/><rect x="196.4" y="389.0" width="163.6" height="11.0" fill="none" stroke="#333" stroke-width="0.6"/>
<line x1="196.4" y1="400.0" x2="196.4" y2="403.2" stroke="#333" stroke-width="0.8"/>
<line x1="219.4" y1="400.0" x2="219.4" y2="403.2" stroke="#333" stroke-width="0.8"/>
<line x1="242.4" y1="400.0" x2="242.4" y2="403.2" stroke="#333" stroke-width="0.8"/>
<line x1="265.4" y1="400.0" x2="265.4" y2="403.2" stroke="#333" stroke-width="0.8"/>
<line x1="288.4" y1="400.0" x2="288.4" y2="403.2" stroke="#333" stroke-width="0.8"/>
<line x1="311.4" y1="400.0" x2="311.4" y2="403.2" stroke="#333" stroke-width="0.8"/>
<line x1="334.4" y1="400.0" x2="334.4" y2="403.2" stroke="#333" stroke-width="0.8"/>
<line x1="357.4" y1="400.0" x2="357.4" y2="403.2" stroke="#333" stroke-width="0.8"/>
<text x="196.8" y="412.0" font-size="9.3" text-anchor="middle" fill="#111" stroke="#111" stroke-width="0.10">1.0</text>
<text x="242.6" y="412.0" font-size="9.3" text-anchor="middle" fill="#111" stroke="#111" stroke-width="0.10">2.0</text>
<text x="288.6" y="412.0" font-size="9.3" text-anchor="middle" fill="#111" stroke="#111" stroke-width="0.10">3.0</text>
<text x="334.6" y="412.0" font-size="9.3" text-anchor="middle" fill="#111" stroke="#111" stroke-width="0.10">4.0</text>
<text x="189.3" y="398.8" font-size="9.9" text-anchor="end" fill="#111" stroke="#111" stroke-width="0.15">Vs (km/s)</text>
<defs><linearGradient id="cg4" x1="0" x2="1" y1="0" y2="0"><stop offset="0" stop-color="#701800"/><stop offset="1" stop-color="#b01400"/></linearGradient></defs><rect x="195.70" y="532.8" width="15.27" height="10.4" fill="url(#cg4)"/><defs><linearGradient id="cg5" x1="0" x2="1" y1="0" y2="0"><stop offset="0" stop-color="#e00808"/><stop offset="1" stop-color="#ff1010"/></linearGradient></defs><rect x="210.67" y="532.8" width="15.27" height="10.4" fill="url(#cg5)"/><defs><linearGradient id="cg6" x1="0" x2="1" y1="0" y2="0"><stop offset="0" stop-color="#ff5800"/><stop offset="1" stop-color="#ffe800"/></linearGradient></defs><rect x="225.65" y="532.8" width="15.27" height="10.4" fill="url(#cg6)"/><rect x="240.62" y="532.8" width="15.27" height="10.4" fill="#10e810"/><rect x="255.59" y="532.8" width="15.27" height="10.4" fill="#10d020"/><rect x="270.56" y="532.8" width="15.27" height="10.4" fill="#10f0f0"/><rect x="285.54" y="532.8" width="15.27" height="10.4" fill="#10c4f0"/><rect x="300.51" y="532.8" width="15.27" height="10.4" fill="#1094f0"/><rect x="315.48" y="532.8" width="15.27" height="10.4" fill="#0830f0"/><rect x="330.45" y="532.8" width="15.27" height="10.4" fill="#2410c0"/><rect x="345.43" y="532.8" width="15.27" height="10.4" fill="#a008f0"/><rect x="195.7" y="532.8" width="164.7" height="10.4" fill="none" stroke="#333" stroke-width="0.6"/>
<line x1="195.7" y1="543.2" x2="195.7" y2="546.5" stroke="#333" stroke-width="0.8"/>
<line x1="210.7" y1="543.2" x2="210.7" y2="546.5" stroke="#333" stroke-width="0.8"/>
<line x1="225.6" y1="543.2" x2="225.6" y2="546.5" stroke="#333" stroke-width="0.8"/>
<line x1="240.6" y1="543.2" x2="240.6" y2="546.5" stroke="#333" stroke-width="0.8"/>
<line x1="255.6" y1="543.2" x2="255.6" y2="546.5" stroke="#333" stroke-width="0.8"/>
<line x1="270.6" y1="543.2" x2="270.6" y2="546.5" stroke="#333" stroke-width="0.8"/>
<line x1="285.5" y1="543.2" x2="285.5" y2="546.5" stroke="#333" stroke-width="0.8"/>
<line x1="300.5" y1="543.2" x2="300.5" y2="546.5" stroke="#333" stroke-width="0.8"/>
<line x1="315.5" y1="543.2" x2="315.5" y2="546.5" stroke="#333" stroke-width="0.8"/>
<line x1="330.4" y1="543.2" x2="330.4" y2="546.5" stroke="#333" stroke-width="0.8"/>
<line x1="345.4" y1="543.2" x2="345.4" y2="546.5" stroke="#333" stroke-width="0.8"/>
<line x1="360.4" y1="543.2" x2="360.4" y2="546.5" stroke="#333" stroke-width="0.8"/>
<text x="198.2" y="556.3" font-size="9.8" text-anchor="middle" fill="#111" stroke="#111" stroke-width="0.10">1.4</text>
<text x="226.0" y="556.3" font-size="9.8" text-anchor="middle" fill="#111" stroke="#111" stroke-width="0.10">1.6</text>
<text x="255.6" y="556.3" font-size="9.8" text-anchor="middle" fill="#111" stroke="#111" stroke-width="0.10">1.8</text>
<text x="285.5" y="556.3" font-size="9.8" text-anchor="middle" fill="#111" stroke="#111" stroke-width="0.10">2.0</text>
<text x="315.0" y="556.3" font-size="9.8" text-anchor="middle" fill="#111" stroke="#111" stroke-width="0.10">2.2</text>
<text x="345.0" y="556.3" font-size="9.8" text-anchor="middle" fill="#111" stroke="#111" stroke-width="0.10">2.4</text>
<text x="191.5" y="540.8" font-size="10.1" text-anchor="end" fill="#111" stroke="#111" stroke-width="0.15">Vp/Vs</text>
</svg>
</body></html>
